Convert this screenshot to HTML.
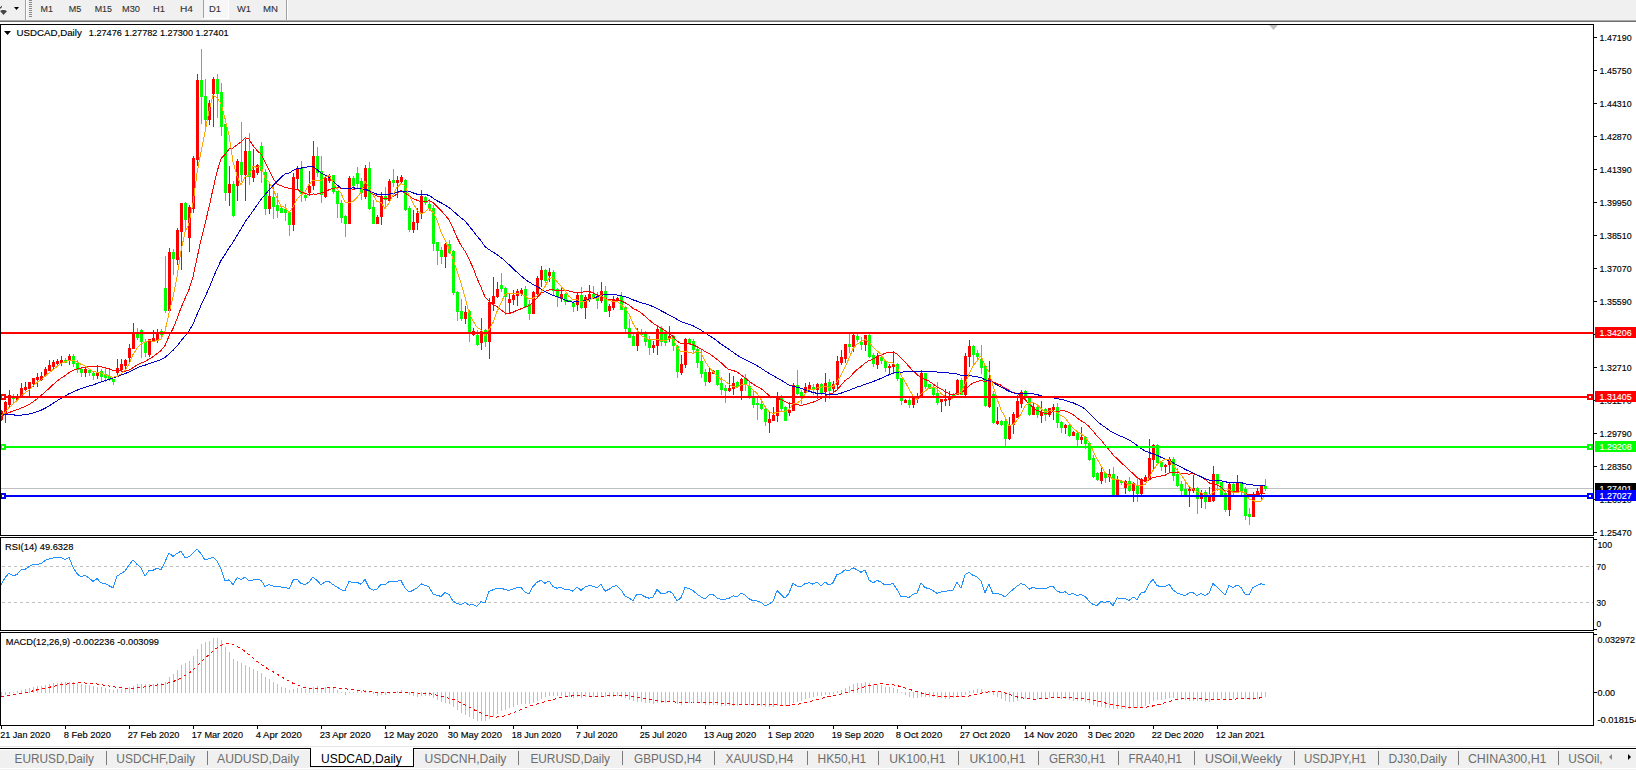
<!DOCTYPE html>
<html><head><meta charset="utf-8"><style>html,body{margin:0;padding:0;background:#fff;width:1636px;height:770px;overflow:hidden}</style></head>
<body><svg width="1636" height="770" viewBox="0 0 1636 770" shape-rendering="crispEdges" style="display:block"><rect x="0" y="0" width="1636" height="20" fill="#f0f0f0"/><rect x="0" y="20" width="1636" height="1" fill="#a8a8a8"/><rect x="0" y="21" width="1636" height="1" fill="#6e6e6e"/><rect x="0" y="22" width="1636" height="2" fill="#ffffff"/><path d="M0 8.8 L0 7.2 Q1 7 1.2 5.8 L2 6.2 Q1.8 8.2 0 8.8 Z" fill="#404040" stroke="#fff" stroke-width="0.6" paint-order="stroke" shape-rendering="geometricPrecision"/><path d="M0 11 L2 10 L5 10 L7 11.2 L3.5 15 Z" fill="#474747" stroke="#fff" stroke-width="0.6" paint-order="stroke" shape-rendering="geometricPrecision"/><path d="M14 7 L19 7 L16.5 10 Z" fill="#000" shape-rendering="geometricPrecision"/><rect x="25" y="0" width="1" height="20" fill="#a0a0a0"/><rect x="26" y="0" width="1" height="20" fill="#ffffff"/><rect x="29" y="0" width="3" height="1" fill="#8a8a8a"/><rect x="29" y="2" width="3" height="1" fill="#8a8a8a"/><rect x="29" y="4" width="3" height="1" fill="#8a8a8a"/><rect x="29" y="6" width="3" height="1" fill="#8a8a8a"/><rect x="29" y="8" width="3" height="1" fill="#8a8a8a"/><rect x="29" y="10" width="3" height="1" fill="#8a8a8a"/><rect x="29" y="12" width="3" height="1" fill="#8a8a8a"/><rect x="29" y="14" width="3" height="1" fill="#8a8a8a"/><rect x="29" y="16" width="3" height="1" fill="#8a8a8a"/><rect x="203" y="0" width="25" height="18" fill="#f7f7f7"/><rect x="203" y="0" width="1" height="18" fill="#a0a0a0"/><rect x="203" y="18" width="26" height="1" fill="#ffffff"/><rect x="228" y="0" width="1" height="18" fill="#ffffff"/><rect x="286" y="0" width="1" height="20" fill="#a0a0a0"/><rect x="287" y="0" width="1" height="20" fill="#ffffff"/><text x="40.6" y="12" font-family="Liberation Sans" font-size="9.6" fill="#303030" stroke="#303030" stroke-width="0.1" textLength="12.399999999999999" lengthAdjust="spacingAndGlyphs" shape-rendering="geometricPrecision">M1</text><text x="68.7" y="12" font-family="Liberation Sans" font-size="9.6" fill="#303030" stroke="#303030" stroke-width="0.1" textLength="12.5" lengthAdjust="spacingAndGlyphs" shape-rendering="geometricPrecision">M5</text><text x="94.7" y="12" font-family="Liberation Sans" font-size="9.6" fill="#303030" stroke="#303030" stroke-width="0.1" textLength="17.299999999999997" lengthAdjust="spacingAndGlyphs" shape-rendering="geometricPrecision">M15</text><text x="122" y="12" font-family="Liberation Sans" font-size="9.6" fill="#303030" stroke="#303030" stroke-width="0.1" textLength="18" lengthAdjust="spacingAndGlyphs" shape-rendering="geometricPrecision">M30</text><text x="153" y="12" font-family="Liberation Sans" font-size="9.6" fill="#303030" stroke="#303030" stroke-width="0.1" textLength="12" lengthAdjust="spacingAndGlyphs" shape-rendering="geometricPrecision">H1</text><text x="180" y="12" font-family="Liberation Sans" font-size="9.6" fill="#303030" stroke="#303030" stroke-width="0.1" textLength="13" lengthAdjust="spacingAndGlyphs" shape-rendering="geometricPrecision">H4</text><text x="209" y="12" font-family="Liberation Sans" font-size="9.6" fill="#303030" stroke="#303030" stroke-width="0.1" textLength="12" lengthAdjust="spacingAndGlyphs" shape-rendering="geometricPrecision">D1</text><text x="237" y="12" font-family="Liberation Sans" font-size="9.6" fill="#303030" stroke="#303030" stroke-width="0.1" textLength="14" lengthAdjust="spacingAndGlyphs" shape-rendering="geometricPrecision">W1</text><text x="263" y="12" font-family="Liberation Sans" font-size="9.6" fill="#303030" stroke="#303030" stroke-width="0.1" textLength="15" lengthAdjust="spacingAndGlyphs" shape-rendering="geometricPrecision">MN</text><rect x="0" y="24" width="1636" height="722" fill="#ffffff"/><rect x="1" y="488" width="1592" height="1" fill="#c0c0c0"/><g><rect x="1" y="410" width="1" height="11" fill="#ff0000"/><rect x="0" y="411" width="3" height="9" fill="#ff0000"/><rect x="5" y="401" width="1" height="22" fill="#ff0000"/><rect x="4" y="402" width="3" height="12" fill="#ff0000"/><rect x="9" y="390" width="1" height="17" fill="#ff0000"/><rect x="8" y="395" width="3" height="10" fill="#ff0000"/><rect x="13" y="394" width="1" height="10" fill="#00ff00"/><rect x="12" y="396" width="3" height="3" fill="#00ff00"/><rect x="17" y="394" width="1" height="6" fill="#ff0000"/><rect x="16" y="396" width="3" height="4" fill="#ff0000"/><rect x="21" y="383" width="1" height="14" fill="#ff0000"/><rect x="20" y="388" width="3" height="9" fill="#ff0000"/><rect x="25" y="382" width="1" height="9" fill="#ff0000"/><rect x="24" y="387" width="3" height="3" fill="#ff0000"/><rect x="29" y="382" width="1" height="14" fill="#ff0000"/><rect x="28" y="382" width="3" height="7" fill="#ff0000"/><rect x="33" y="378" width="1" height="9" fill="#ff0000"/><rect x="32" y="378" width="3" height="6" fill="#ff0000"/><rect x="37" y="373" width="1" height="14" fill="#ff0000"/><rect x="36" y="377" width="3" height="3" fill="#ff0000"/><rect x="41" y="372" width="1" height="9" fill="#ff0000"/><rect x="40" y="376" width="3" height="4" fill="#ff0000"/><rect x="45" y="367" width="1" height="10" fill="#ff0000"/><rect x="44" y="369" width="3" height="7" fill="#ff0000"/><rect x="49" y="360" width="1" height="11" fill="#ff0000"/><rect x="48" y="365" width="3" height="6" fill="#ff0000"/><rect x="53" y="360" width="1" height="10" fill="#ff0000"/><rect x="52" y="362" width="3" height="5" fill="#ff0000"/><rect x="57" y="359" width="1" height="7" fill="#ff0000"/><rect x="56" y="361" width="3" height="3" fill="#ff0000"/><rect x="61" y="356" width="1" height="10" fill="#ff0000"/><rect x="60" y="360" width="3" height="3" fill="#ff0000"/><rect x="65" y="358" width="1" height="5" fill="#00ff00"/><rect x="64" y="360" width="3" height="3" fill="#00ff00"/><rect x="69" y="354" width="1" height="11" fill="#ff0000"/><rect x="68" y="356" width="3" height="5" fill="#ff0000"/><rect x="73" y="354" width="1" height="13" fill="#00ff00"/><rect x="72" y="356" width="3" height="8" fill="#00ff00"/><rect x="77" y="360" width="1" height="13" fill="#00ff00"/><rect x="76" y="363" width="3" height="7" fill="#00ff00"/><rect x="81" y="367" width="1" height="10" fill="#00ff00"/><rect x="80" y="369" width="3" height="4" fill="#00ff00"/><rect x="85" y="367" width="1" height="10" fill="#ff0000"/><rect x="84" y="369" width="3" height="4" fill="#ff0000"/><rect x="89" y="369" width="1" height="7" fill="#00ff00"/><rect x="88" y="370" width="3" height="3" fill="#00ff00"/><rect x="93" y="372" width="1" height="8" fill="#00ff00"/><rect x="92" y="373" width="3" height="3" fill="#00ff00"/><rect x="97" y="365" width="1" height="14" fill="#ff0000"/><rect x="96" y="372" width="3" height="4" fill="#ff0000"/><rect x="101" y="369" width="1" height="13" fill="#00ff00"/><rect x="100" y="371" width="3" height="6" fill="#00ff00"/><rect x="105" y="368" width="1" height="14" fill="#00ff00"/><rect x="104" y="374" width="3" height="4" fill="#00ff00"/><rect x="109" y="369" width="1" height="12" fill="#00ff00"/><rect x="108" y="376" width="3" height="4" fill="#00ff00"/><rect x="113" y="379" width="1" height="6" fill="#00ff00"/><rect x="112" y="379" width="3" height="3" fill="#00ff00"/><rect x="117" y="359" width="1" height="16" fill="#ff0000"/><rect x="116" y="368" width="3" height="5" fill="#ff0000"/><rect x="121" y="359" width="1" height="12" fill="#ff0000"/><rect x="120" y="364" width="3" height="6" fill="#ff0000"/><rect x="125" y="359" width="1" height="10" fill="#ff0000"/><rect x="124" y="360" width="3" height="6" fill="#ff0000"/><rect x="129" y="344" width="1" height="18" fill="#ff0000"/><rect x="128" y="348" width="3" height="10" fill="#ff0000"/><rect x="133" y="323" width="1" height="26" fill="#ff0000"/><rect x="132" y="333" width="3" height="16" fill="#ff0000"/><rect x="137" y="328" width="1" height="12" fill="#00ff00"/><rect x="136" y="333" width="3" height="5" fill="#00ff00"/><rect x="141" y="329" width="1" height="29" fill="#00ff00"/><rect x="140" y="330" width="3" height="12" fill="#00ff00"/><rect x="145" y="339" width="1" height="18" fill="#00ff00"/><rect x="144" y="342" width="3" height="11" fill="#00ff00"/><rect x="149" y="339" width="1" height="18" fill="#ff0000"/><rect x="148" y="339" width="3" height="16" fill="#ff0000"/><rect x="153" y="330" width="1" height="12" fill="#ff0000"/><rect x="152" y="338" width="3" height="3" fill="#ff0000"/><rect x="157" y="329" width="1" height="14" fill="#ff0000"/><rect x="156" y="333" width="3" height="7" fill="#ff0000"/><rect x="161" y="329" width="1" height="9" fill="#00ff00"/><rect x="160" y="331" width="3" height="4" fill="#00ff00"/><rect x="165" y="256" width="1" height="57" fill="#00ff00"/><rect x="164" y="288" width="3" height="23" fill="#00ff00"/><rect x="169" y="248" width="1" height="63" fill="#ff0000"/><rect x="168" y="252" width="3" height="59" fill="#ff0000"/><rect x="173" y="249" width="1" height="26" fill="#00ff00"/><rect x="172" y="252" width="3" height="7" fill="#00ff00"/><rect x="177" y="228" width="1" height="37" fill="#ff0000"/><rect x="176" y="230" width="3" height="30" fill="#ff0000"/><rect x="181" y="203" width="1" height="67" fill="#ff0000"/><rect x="180" y="203" width="3" height="29" fill="#ff0000"/><rect x="185" y="202" width="1" height="29" fill="#00ff00"/><rect x="184" y="203" width="3" height="17" fill="#00ff00"/><rect x="189" y="205" width="1" height="47" fill="#ff0000"/><rect x="188" y="207" width="3" height="31" fill="#ff0000"/><rect x="193" y="156" width="1" height="57" fill="#ff0000"/><rect x="192" y="158" width="3" height="51" fill="#ff0000"/><rect x="197" y="74" width="1" height="92" fill="#ff0000"/><rect x="196" y="80" width="3" height="80" fill="#ff0000"/><rect x="201" y="49" width="1" height="75" fill="#00ff00"/><rect x="200" y="80" width="3" height="17" fill="#00ff00"/><rect x="205" y="79" width="1" height="53" fill="#00ff00"/><rect x="204" y="96" width="3" height="24" fill="#00ff00"/><rect x="209" y="100" width="1" height="25" fill="#ff0000"/><rect x="208" y="103" width="3" height="17" fill="#ff0000"/><rect x="213" y="77" width="1" height="50" fill="#ff0000"/><rect x="212" y="79" width="3" height="15" fill="#ff0000"/><rect x="217" y="74" width="1" height="44" fill="#00ff00"/><rect x="216" y="79" width="3" height="15" fill="#00ff00"/><rect x="221" y="83" width="1" height="53" fill="#00ff00"/><rect x="220" y="92" width="3" height="35" fill="#00ff00"/><rect x="225" y="124" width="1" height="77" fill="#00ff00"/><rect x="224" y="124" width="3" height="69" fill="#00ff00"/><rect x="229" y="166" width="1" height="40" fill="#ff0000"/><rect x="228" y="184" width="3" height="9" fill="#ff0000"/><rect x="233" y="181" width="1" height="36" fill="#00ff00"/><rect x="232" y="184" width="3" height="32" fill="#00ff00"/><rect x="237" y="159" width="1" height="42" fill="#ff0000"/><rect x="236" y="161" width="3" height="25" fill="#ff0000"/><rect x="241" y="122" width="1" height="60" fill="#00ff00"/><rect x="240" y="162" width="3" height="13" fill="#00ff00"/><rect x="245" y="139" width="1" height="62" fill="#ff0000"/><rect x="244" y="151" width="3" height="24" fill="#ff0000"/><rect x="249" y="133" width="1" height="52" fill="#00ff00"/><rect x="248" y="151" width="3" height="26" fill="#00ff00"/><rect x="253" y="149" width="1" height="33" fill="#ff0000"/><rect x="252" y="170" width="3" height="8" fill="#ff0000"/><rect x="257" y="164" width="1" height="11" fill="#ff0000"/><rect x="256" y="165" width="3" height="8" fill="#ff0000"/><rect x="261" y="142" width="1" height="41" fill="#00ff00"/><rect x="260" y="146" width="3" height="25" fill="#00ff00"/><rect x="265" y="169" width="1" height="46" fill="#00ff00"/><rect x="264" y="172" width="3" height="37" fill="#00ff00"/><rect x="269" y="184" width="1" height="30" fill="#ff0000"/><rect x="268" y="196" width="3" height="13" fill="#ff0000"/><rect x="273" y="184" width="1" height="35" fill="#00ff00"/><rect x="272" y="197" width="3" height="10" fill="#00ff00"/><rect x="277" y="193" width="1" height="25" fill="#00ff00"/><rect x="276" y="205" width="3" height="6" fill="#00ff00"/><rect x="281" y="207" width="1" height="6" fill="#00ff00"/><rect x="280" y="208" width="3" height="5" fill="#00ff00"/><rect x="285" y="204" width="1" height="17" fill="#00ff00"/><rect x="284" y="209" width="3" height="4" fill="#00ff00"/><rect x="289" y="211" width="1" height="25" fill="#00ff00"/><rect x="288" y="212" width="3" height="13" fill="#00ff00"/><rect x="293" y="173" width="1" height="58" fill="#ff0000"/><rect x="292" y="177" width="3" height="48" fill="#ff0000"/><rect x="297" y="166" width="1" height="24" fill="#ff0000"/><rect x="296" y="169" width="3" height="10" fill="#ff0000"/><rect x="301" y="161" width="1" height="41" fill="#00ff00"/><rect x="300" y="168" width="3" height="26" fill="#00ff00"/><rect x="305" y="194" width="1" height="7" fill="#00ff00"/><rect x="304" y="195" width="3" height="3" fill="#00ff00"/><rect x="309" y="171" width="1" height="25" fill="#ff0000"/><rect x="308" y="186" width="3" height="7" fill="#ff0000"/><rect x="313" y="141" width="1" height="49" fill="#ff0000"/><rect x="312" y="156" width="3" height="30" fill="#ff0000"/><rect x="317" y="147" width="1" height="30" fill="#00ff00"/><rect x="316" y="156" width="3" height="17" fill="#00ff00"/><rect x="321" y="156" width="1" height="47" fill="#00ff00"/><rect x="320" y="171" width="3" height="24" fill="#00ff00"/><rect x="325" y="176" width="1" height="22" fill="#ff0000"/><rect x="324" y="178" width="3" height="19" fill="#ff0000"/><rect x="329" y="174" width="1" height="9" fill="#ff0000"/><rect x="328" y="176" width="3" height="5" fill="#ff0000"/><rect x="333" y="175" width="1" height="19" fill="#00ff00"/><rect x="332" y="175" width="3" height="17" fill="#00ff00"/><rect x="337" y="191" width="1" height="27" fill="#00ff00"/><rect x="336" y="191" width="3" height="13" fill="#00ff00"/><rect x="341" y="200" width="1" height="23" fill="#00ff00"/><rect x="340" y="203" width="3" height="15" fill="#00ff00"/><rect x="345" y="215" width="1" height="22" fill="#00ff00"/><rect x="344" y="216" width="3" height="8" fill="#00ff00"/><rect x="349" y="176" width="1" height="48" fill="#ff0000"/><rect x="348" y="178" width="3" height="46" fill="#ff0000"/><rect x="353" y="176" width="1" height="13" fill="#00ff00"/><rect x="352" y="178" width="3" height="8" fill="#00ff00"/><rect x="357" y="167" width="1" height="21" fill="#00ff00"/><rect x="356" y="173" width="3" height="11" fill="#00ff00"/><rect x="361" y="178" width="1" height="22" fill="#00ff00"/><rect x="360" y="181" width="3" height="12" fill="#00ff00"/><rect x="365" y="165" width="1" height="34" fill="#ff0000"/><rect x="364" y="168" width="3" height="29" fill="#ff0000"/><rect x="369" y="162" width="1" height="48" fill="#00ff00"/><rect x="368" y="168" width="3" height="41" fill="#00ff00"/><rect x="373" y="200" width="1" height="24" fill="#00ff00"/><rect x="372" y="207" width="3" height="17" fill="#00ff00"/><rect x="377" y="215" width="1" height="9" fill="#ff0000"/><rect x="376" y="217" width="3" height="7" fill="#ff0000"/><rect x="381" y="192" width="1" height="33" fill="#ff0000"/><rect x="380" y="196" width="3" height="21" fill="#ff0000"/><rect x="385" y="187" width="1" height="22" fill="#00ff00"/><rect x="384" y="196" width="3" height="4" fill="#00ff00"/><rect x="389" y="179" width="1" height="23" fill="#ff0000"/><rect x="388" y="181" width="3" height="20" fill="#ff0000"/><rect x="393" y="169" width="1" height="18" fill="#00ff00"/><rect x="392" y="180" width="3" height="3" fill="#00ff00"/><rect x="397" y="176" width="1" height="22" fill="#ff0000"/><rect x="396" y="180" width="3" height="3" fill="#ff0000"/><rect x="401" y="175" width="1" height="8" fill="#ff0000"/><rect x="400" y="177" width="3" height="5" fill="#ff0000"/><rect x="405" y="179" width="1" height="32" fill="#00ff00"/><rect x="404" y="180" width="3" height="30" fill="#00ff00"/><rect x="409" y="206" width="1" height="26" fill="#00ff00"/><rect x="408" y="208" width="3" height="22" fill="#00ff00"/><rect x="413" y="210" width="1" height="23" fill="#ff0000"/><rect x="412" y="222" width="3" height="8" fill="#ff0000"/><rect x="417" y="208" width="1" height="22" fill="#ff0000"/><rect x="416" y="213" width="3" height="10" fill="#ff0000"/><rect x="421" y="190" width="1" height="29" fill="#ff0000"/><rect x="420" y="196" width="3" height="18" fill="#ff0000"/><rect x="425" y="196" width="1" height="9" fill="#00ff00"/><rect x="424" y="197" width="3" height="6" fill="#00ff00"/><rect x="429" y="199" width="1" height="12" fill="#00ff00"/><rect x="428" y="204" width="3" height="5" fill="#00ff00"/><rect x="433" y="205" width="1" height="46" fill="#00ff00"/><rect x="432" y="208" width="3" height="36" fill="#00ff00"/><rect x="437" y="242" width="1" height="23" fill="#00ff00"/><rect x="436" y="242" width="3" height="9" fill="#00ff00"/><rect x="441" y="247" width="1" height="17" fill="#00ff00"/><rect x="440" y="250" width="3" height="7" fill="#00ff00"/><rect x="445" y="243" width="1" height="25" fill="#ff0000"/><rect x="444" y="244" width="3" height="13" fill="#ff0000"/><rect x="449" y="240" width="1" height="14" fill="#00ff00"/><rect x="448" y="244" width="3" height="9" fill="#00ff00"/><rect x="453" y="250" width="1" height="45" fill="#00ff00"/><rect x="452" y="251" width="3" height="42" fill="#00ff00"/><rect x="457" y="291" width="1" height="30" fill="#00ff00"/><rect x="456" y="292" width="3" height="20" fill="#00ff00"/><rect x="461" y="299" width="1" height="22" fill="#00ff00"/><rect x="460" y="311" width="3" height="8" fill="#00ff00"/><rect x="465" y="306" width="1" height="18" fill="#ff0000"/><rect x="464" y="312" width="3" height="7" fill="#ff0000"/><rect x="469" y="310" width="1" height="32" fill="#00ff00"/><rect x="468" y="311" width="3" height="22" fill="#00ff00"/><rect x="473" y="328" width="1" height="8" fill="#ff0000"/><rect x="472" y="331" width="3" height="4" fill="#ff0000"/><rect x="477" y="330" width="1" height="16" fill="#00ff00"/><rect x="476" y="335" width="3" height="10" fill="#00ff00"/><rect x="481" y="318" width="1" height="32" fill="#ff0000"/><rect x="480" y="331" width="3" height="12" fill="#ff0000"/><rect x="485" y="329" width="1" height="18" fill="#00ff00"/><rect x="484" y="330" width="3" height="12" fill="#00ff00"/><rect x="489" y="298" width="1" height="61" fill="#ff0000"/><rect x="488" y="302" width="3" height="40" fill="#ff0000"/><rect x="493" y="277" width="1" height="34" fill="#ff0000"/><rect x="492" y="296" width="3" height="8" fill="#ff0000"/><rect x="497" y="282" width="1" height="16" fill="#ff0000"/><rect x="496" y="289" width="3" height="8" fill="#ff0000"/><rect x="501" y="273" width="1" height="19" fill="#00ff00"/><rect x="500" y="285" width="3" height="4" fill="#00ff00"/><rect x="505" y="287" width="1" height="28" fill="#00ff00"/><rect x="504" y="288" width="3" height="9" fill="#00ff00"/><rect x="509" y="293" width="1" height="21" fill="#ff0000"/><rect x="508" y="299" width="3" height="4" fill="#ff0000"/><rect x="513" y="290" width="1" height="15" fill="#ff0000"/><rect x="512" y="295" width="3" height="5" fill="#ff0000"/><rect x="517" y="289" width="1" height="17" fill="#ff0000"/><rect x="516" y="291" width="3" height="5" fill="#ff0000"/><rect x="521" y="288" width="1" height="8" fill="#ff0000"/><rect x="520" y="290" width="3" height="4" fill="#ff0000"/><rect x="525" y="286" width="1" height="22" fill="#00ff00"/><rect x="524" y="289" width="3" height="18" fill="#00ff00"/><rect x="529" y="300" width="1" height="20" fill="#00ff00"/><rect x="528" y="304" width="3" height="10" fill="#00ff00"/><rect x="533" y="291" width="1" height="23" fill="#ff0000"/><rect x="532" y="292" width="3" height="22" fill="#ff0000"/><rect x="537" y="276" width="1" height="21" fill="#ff0000"/><rect x="536" y="278" width="3" height="16" fill="#ff0000"/><rect x="541" y="266" width="1" height="21" fill="#ff0000"/><rect x="540" y="270" width="3" height="10" fill="#ff0000"/><rect x="545" y="269" width="1" height="14" fill="#00ff00"/><rect x="544" y="270" width="3" height="11" fill="#00ff00"/><rect x="549" y="268" width="1" height="14" fill="#ff0000"/><rect x="548" y="272" width="3" height="4" fill="#ff0000"/><rect x="553" y="270" width="1" height="25" fill="#00ff00"/><rect x="552" y="272" width="3" height="19" fill="#00ff00"/><rect x="557" y="288" width="1" height="19" fill="#00ff00"/><rect x="556" y="289" width="3" height="8" fill="#00ff00"/><rect x="561" y="287" width="1" height="15" fill="#ff0000"/><rect x="560" y="294" width="3" height="5" fill="#ff0000"/><rect x="565" y="293" width="1" height="12" fill="#00ff00"/><rect x="564" y="294" width="3" height="8" fill="#00ff00"/><rect x="569" y="300" width="1" height="2" fill="#00ff00"/><rect x="568" y="300" width="3" height="2" fill="#00ff00"/><rect x="573" y="301" width="1" height="11" fill="#00ff00"/><rect x="572" y="303" width="3" height="4" fill="#00ff00"/><rect x="577" y="292" width="1" height="19" fill="#ff0000"/><rect x="576" y="295" width="3" height="10" fill="#ff0000"/><rect x="581" y="287" width="1" height="22" fill="#00ff00"/><rect x="580" y="295" width="3" height="13" fill="#00ff00"/><rect x="585" y="295" width="1" height="24" fill="#ff0000"/><rect x="584" y="297" width="3" height="11" fill="#ff0000"/><rect x="589" y="285" width="1" height="17" fill="#ff0000"/><rect x="588" y="294" width="3" height="5" fill="#ff0000"/><rect x="593" y="286" width="1" height="11" fill="#00ff00"/><rect x="592" y="294" width="3" height="3" fill="#00ff00"/><rect x="597" y="292" width="1" height="17" fill="#00ff00"/><rect x="596" y="296" width="3" height="5" fill="#00ff00"/><rect x="601" y="282" width="1" height="21" fill="#ff0000"/><rect x="600" y="291" width="3" height="10" fill="#ff0000"/><rect x="605" y="286" width="1" height="26" fill="#00ff00"/><rect x="604" y="291" width="3" height="21" fill="#00ff00"/><rect x="609" y="304" width="1" height="13" fill="#ff0000"/><rect x="608" y="306" width="3" height="5" fill="#ff0000"/><rect x="613" y="296" width="1" height="14" fill="#ff0000"/><rect x="612" y="299" width="3" height="9" fill="#ff0000"/><rect x="617" y="297" width="1" height="4" fill="#ff0000"/><rect x="616" y="298" width="3" height="3" fill="#ff0000"/><rect x="621" y="292" width="1" height="18" fill="#00ff00"/><rect x="620" y="296" width="3" height="14" fill="#00ff00"/><rect x="625" y="306" width="1" height="26" fill="#00ff00"/><rect x="624" y="307" width="3" height="22" fill="#00ff00"/><rect x="629" y="319" width="1" height="19" fill="#00ff00"/><rect x="628" y="328" width="3" height="10" fill="#00ff00"/><rect x="633" y="334" width="1" height="12" fill="#00ff00"/><rect x="632" y="336" width="3" height="10" fill="#00ff00"/><rect x="637" y="328" width="1" height="23" fill="#ff0000"/><rect x="636" y="332" width="3" height="14" fill="#ff0000"/><rect x="641" y="329" width="1" height="6" fill="#00ff00"/><rect x="640" y="332" width="3" height="3" fill="#00ff00"/><rect x="645" y="331" width="1" height="15" fill="#00ff00"/><rect x="644" y="333" width="3" height="9" fill="#00ff00"/><rect x="649" y="336" width="1" height="19" fill="#00ff00"/><rect x="648" y="340" width="3" height="8" fill="#00ff00"/><rect x="653" y="341" width="1" height="12" fill="#ff0000"/><rect x="652" y="345" width="3" height="3" fill="#ff0000"/><rect x="657" y="325" width="1" height="30" fill="#ff0000"/><rect x="656" y="329" width="3" height="17" fill="#ff0000"/><rect x="661" y="326" width="1" height="20" fill="#00ff00"/><rect x="660" y="328" width="3" height="14" fill="#00ff00"/><rect x="665" y="331" width="1" height="15" fill="#00ff00"/><rect x="664" y="334" width="3" height="9" fill="#00ff00"/><rect x="669" y="326" width="1" height="16" fill="#ff0000"/><rect x="668" y="336" width="3" height="3" fill="#ff0000"/><rect x="673" y="335" width="1" height="16" fill="#00ff00"/><rect x="672" y="336" width="3" height="10" fill="#00ff00"/><rect x="677" y="345" width="1" height="33" fill="#00ff00"/><rect x="676" y="346" width="3" height="26" fill="#00ff00"/><rect x="681" y="355" width="1" height="20" fill="#ff0000"/><rect x="680" y="364" width="3" height="9" fill="#ff0000"/><rect x="685" y="338" width="1" height="30" fill="#ff0000"/><rect x="684" y="339" width="3" height="26" fill="#ff0000"/><rect x="689" y="338" width="1" height="7" fill="#00ff00"/><rect x="688" y="339" width="3" height="4" fill="#00ff00"/><rect x="693" y="339" width="1" height="15" fill="#00ff00"/><rect x="692" y="341" width="3" height="9" fill="#00ff00"/><rect x="697" y="348" width="1" height="20" fill="#00ff00"/><rect x="696" y="349" width="3" height="14" fill="#00ff00"/><rect x="701" y="350" width="1" height="28" fill="#00ff00"/><rect x="700" y="361" width="3" height="13" fill="#00ff00"/><rect x="705" y="369" width="1" height="17" fill="#00ff00"/><rect x="704" y="372" width="3" height="10" fill="#00ff00"/><rect x="709" y="368" width="1" height="15" fill="#ff0000"/><rect x="708" y="372" width="3" height="10" fill="#ff0000"/><rect x="713" y="370" width="1" height="4" fill="#ff0000"/><rect x="712" y="371" width="3" height="3" fill="#ff0000"/><rect x="717" y="370" width="1" height="16" fill="#00ff00"/><rect x="716" y="370" width="3" height="15" fill="#00ff00"/><rect x="721" y="377" width="1" height="18" fill="#00ff00"/><rect x="720" y="383" width="3" height="7" fill="#00ff00"/><rect x="725" y="385" width="1" height="18" fill="#00ff00"/><rect x="724" y="388" width="3" height="3" fill="#00ff00"/><rect x="729" y="373" width="1" height="19" fill="#ff0000"/><rect x="728" y="388" width="3" height="3" fill="#ff0000"/><rect x="733" y="376" width="1" height="19" fill="#ff0000"/><rect x="732" y="383" width="3" height="6" fill="#ff0000"/><rect x="737" y="381" width="1" height="7" fill="#00ff00"/><rect x="736" y="382" width="3" height="5" fill="#00ff00"/><rect x="741" y="378" width="1" height="22" fill="#ff0000"/><rect x="740" y="379" width="3" height="12" fill="#ff0000"/><rect x="745" y="374" width="1" height="17" fill="#00ff00"/><rect x="744" y="378" width="3" height="7" fill="#00ff00"/><rect x="749" y="382" width="1" height="17" fill="#00ff00"/><rect x="748" y="386" width="3" height="11" fill="#00ff00"/><rect x="753" y="391" width="1" height="17" fill="#00ff00"/><rect x="752" y="397" width="3" height="8" fill="#00ff00"/><rect x="757" y="398" width="1" height="22" fill="#00ff00"/><rect x="756" y="403" width="3" height="2" fill="#00ff00"/><rect x="761" y="400" width="1" height="10" fill="#00ff00"/><rect x="760" y="404" width="3" height="5" fill="#00ff00"/><rect x="765" y="406" width="1" height="20" fill="#00ff00"/><rect x="764" y="409" width="3" height="13" fill="#00ff00"/><rect x="769" y="411" width="1" height="22" fill="#ff0000"/><rect x="768" y="419" width="3" height="4" fill="#ff0000"/><rect x="773" y="407" width="1" height="14" fill="#ff0000"/><rect x="772" y="415" width="3" height="6" fill="#ff0000"/><rect x="777" y="392" width="1" height="30" fill="#ff0000"/><rect x="776" y="397" width="3" height="19" fill="#ff0000"/><rect x="781" y="395" width="1" height="17" fill="#00ff00"/><rect x="780" y="397" width="3" height="12" fill="#00ff00"/><rect x="785" y="406" width="1" height="15" fill="#00ff00"/><rect x="784" y="407" width="3" height="14" fill="#00ff00"/><rect x="789" y="402" width="1" height="14" fill="#ff0000"/><rect x="788" y="410" width="3" height="3" fill="#ff0000"/><rect x="793" y="383" width="1" height="28" fill="#ff0000"/><rect x="792" y="385" width="3" height="26" fill="#ff0000"/><rect x="797" y="370" width="1" height="25" fill="#00ff00"/><rect x="796" y="385" width="3" height="9" fill="#00ff00"/><rect x="801" y="390" width="1" height="14" fill="#00ff00"/><rect x="800" y="392" width="3" height="4" fill="#00ff00"/><rect x="805" y="383" width="1" height="11" fill="#ff0000"/><rect x="804" y="387" width="3" height="6" fill="#ff0000"/><rect x="809" y="382" width="1" height="9" fill="#ff0000"/><rect x="808" y="385" width="3" height="4" fill="#ff0000"/><rect x="813" y="384" width="1" height="11" fill="#00ff00"/><rect x="812" y="387" width="3" height="2" fill="#00ff00"/><rect x="817" y="383" width="1" height="16" fill="#ff0000"/><rect x="816" y="384" width="3" height="6" fill="#ff0000"/><rect x="821" y="383" width="1" height="12" fill="#00ff00"/><rect x="820" y="384" width="3" height="9" fill="#00ff00"/><rect x="825" y="373" width="1" height="29" fill="#ff0000"/><rect x="824" y="383" width="3" height="9" fill="#ff0000"/><rect x="829" y="379" width="1" height="20" fill="#00ff00"/><rect x="828" y="382" width="3" height="9" fill="#00ff00"/><rect x="833" y="381" width="1" height="11" fill="#ff0000"/><rect x="832" y="384" width="3" height="5" fill="#ff0000"/><rect x="837" y="356" width="1" height="33" fill="#ff0000"/><rect x="836" y="361" width="3" height="24" fill="#ff0000"/><rect x="841" y="350" width="1" height="15" fill="#ff0000"/><rect x="840" y="357" width="3" height="6" fill="#ff0000"/><rect x="845" y="344" width="1" height="19" fill="#ff0000"/><rect x="844" y="344" width="3" height="15" fill="#ff0000"/><rect x="849" y="333" width="1" height="20" fill="#00ff00"/><rect x="848" y="344" width="3" height="3" fill="#00ff00"/><rect x="853" y="333" width="1" height="19" fill="#ff0000"/><rect x="852" y="335" width="3" height="12" fill="#ff0000"/><rect x="857" y="333" width="1" height="9" fill="#00ff00"/><rect x="856" y="336" width="3" height="4" fill="#00ff00"/><rect x="861" y="337" width="1" height="13" fill="#00ff00"/><rect x="860" y="342" width="3" height="3" fill="#00ff00"/><rect x="865" y="335" width="1" height="16" fill="#ff0000"/><rect x="864" y="335" width="3" height="10" fill="#ff0000"/><rect x="869" y="333" width="1" height="25" fill="#00ff00"/><rect x="868" y="335" width="3" height="22" fill="#00ff00"/><rect x="873" y="353" width="1" height="14" fill="#00ff00"/><rect x="872" y="355" width="3" height="9" fill="#00ff00"/><rect x="877" y="353" width="1" height="16" fill="#ff0000"/><rect x="876" y="356" width="3" height="9" fill="#ff0000"/><rect x="881" y="356" width="1" height="8" fill="#00ff00"/><rect x="880" y="357" width="3" height="4" fill="#00ff00"/><rect x="885" y="360" width="1" height="12" fill="#00ff00"/><rect x="884" y="361" width="3" height="7" fill="#00ff00"/><rect x="889" y="364" width="1" height="11" fill="#ff0000"/><rect x="888" y="366" width="3" height="2" fill="#ff0000"/><rect x="893" y="351" width="1" height="23" fill="#ff0000"/><rect x="892" y="364" width="3" height="3" fill="#ff0000"/><rect x="897" y="363" width="1" height="18" fill="#00ff00"/><rect x="896" y="364" width="3" height="15" fill="#00ff00"/><rect x="901" y="378" width="1" height="27" fill="#00ff00"/><rect x="900" y="378" width="3" height="23" fill="#00ff00"/><rect x="905" y="399" width="1" height="4" fill="#ff0000"/><rect x="904" y="400" width="3" height="3" fill="#ff0000"/><rect x="909" y="398" width="1" height="10" fill="#00ff00"/><rect x="908" y="400" width="3" height="5" fill="#00ff00"/><rect x="913" y="396" width="1" height="12" fill="#ff0000"/><rect x="912" y="398" width="3" height="7" fill="#ff0000"/><rect x="917" y="393" width="1" height="10" fill="#ff0000"/><rect x="916" y="396" width="3" height="3" fill="#ff0000"/><rect x="921" y="370" width="1" height="27" fill="#ff0000"/><rect x="920" y="373" width="3" height="24" fill="#ff0000"/><rect x="925" y="373" width="1" height="16" fill="#00ff00"/><rect x="924" y="373" width="3" height="14" fill="#00ff00"/><rect x="929" y="384" width="1" height="5" fill="#00ff00"/><rect x="928" y="384" width="3" height="5" fill="#00ff00"/><rect x="933" y="385" width="1" height="12" fill="#00ff00"/><rect x="932" y="387" width="3" height="8" fill="#00ff00"/><rect x="937" y="382" width="1" height="23" fill="#00ff00"/><rect x="936" y="393" width="3" height="10" fill="#00ff00"/><rect x="941" y="399" width="1" height="13" fill="#ff0000"/><rect x="940" y="399" width="3" height="3" fill="#ff0000"/><rect x="945" y="389" width="1" height="17" fill="#ff0000"/><rect x="944" y="399" width="3" height="2" fill="#ff0000"/><rect x="949" y="391" width="1" height="15" fill="#ff0000"/><rect x="948" y="396" width="3" height="4" fill="#ff0000"/><rect x="953" y="393" width="1" height="5" fill="#00ff00"/><rect x="952" y="394" width="3" height="3" fill="#00ff00"/><rect x="957" y="379" width="1" height="16" fill="#ff0000"/><rect x="956" y="380" width="3" height="15" fill="#ff0000"/><rect x="961" y="378" width="1" height="17" fill="#00ff00"/><rect x="960" y="380" width="3" height="15" fill="#00ff00"/><rect x="965" y="353" width="1" height="43" fill="#ff0000"/><rect x="964" y="356" width="3" height="39" fill="#ff0000"/><rect x="969" y="340" width="1" height="27" fill="#ff0000"/><rect x="968" y="346" width="3" height="11" fill="#ff0000"/><rect x="973" y="345" width="1" height="21" fill="#00ff00"/><rect x="972" y="346" width="3" height="9" fill="#00ff00"/><rect x="977" y="350" width="1" height="9" fill="#00ff00"/><rect x="976" y="353" width="3" height="4" fill="#00ff00"/><rect x="981" y="345" width="1" height="29" fill="#00ff00"/><rect x="980" y="359" width="3" height="9" fill="#00ff00"/><rect x="985" y="366" width="1" height="41" fill="#00ff00"/><rect x="984" y="366" width="3" height="40" fill="#00ff00"/><rect x="989" y="361" width="1" height="47" fill="#ff0000"/><rect x="988" y="378" width="3" height="29" fill="#ff0000"/><rect x="993" y="391" width="1" height="33" fill="#00ff00"/><rect x="992" y="394" width="3" height="29" fill="#00ff00"/><rect x="997" y="407" width="1" height="18" fill="#ff0000"/><rect x="996" y="421" width="3" height="3" fill="#ff0000"/><rect x="1001" y="420" width="1" height="6" fill="#00ff00"/><rect x="1000" y="421" width="3" height="4" fill="#00ff00"/><rect x="1005" y="419" width="1" height="27" fill="#00ff00"/><rect x="1004" y="421" width="3" height="18" fill="#00ff00"/><rect x="1009" y="417" width="1" height="23" fill="#ff0000"/><rect x="1008" y="425" width="3" height="14" fill="#ff0000"/><rect x="1013" y="412" width="1" height="22" fill="#ff0000"/><rect x="1012" y="414" width="3" height="11" fill="#ff0000"/><rect x="1017" y="395" width="1" height="23" fill="#ff0000"/><rect x="1016" y="401" width="3" height="17" fill="#ff0000"/><rect x="1021" y="390" width="1" height="18" fill="#ff0000"/><rect x="1020" y="392" width="3" height="12" fill="#ff0000"/><rect x="1025" y="390" width="1" height="9" fill="#00ff00"/><rect x="1024" y="391" width="3" height="7" fill="#00ff00"/><rect x="1029" y="398" width="1" height="18" fill="#00ff00"/><rect x="1028" y="398" width="3" height="17" fill="#00ff00"/><rect x="1033" y="403" width="1" height="12" fill="#ff0000"/><rect x="1032" y="407" width="3" height="8" fill="#ff0000"/><rect x="1037" y="404" width="1" height="14" fill="#00ff00"/><rect x="1036" y="407" width="3" height="8" fill="#00ff00"/><rect x="1041" y="401" width="1" height="22" fill="#ff0000"/><rect x="1040" y="412" width="3" height="4" fill="#ff0000"/><rect x="1045" y="408" width="1" height="13" fill="#00ff00"/><rect x="1044" y="409" width="3" height="6" fill="#00ff00"/><rect x="1049" y="408" width="1" height="9" fill="#ff0000"/><rect x="1048" y="408" width="3" height="7" fill="#ff0000"/><rect x="1053" y="404" width="1" height="16" fill="#ff0000"/><rect x="1052" y="407" width="3" height="3" fill="#ff0000"/><rect x="1057" y="403" width="1" height="25" fill="#00ff00"/><rect x="1056" y="407" width="3" height="16" fill="#00ff00"/><rect x="1061" y="421" width="1" height="12" fill="#00ff00"/><rect x="1060" y="422" width="3" height="6" fill="#00ff00"/><rect x="1065" y="424" width="1" height="10" fill="#ff0000"/><rect x="1064" y="425" width="3" height="3" fill="#ff0000"/><rect x="1069" y="424" width="1" height="13" fill="#00ff00"/><rect x="1068" y="425" width="3" height="11" fill="#00ff00"/><rect x="1073" y="431" width="1" height="5" fill="#ff0000"/><rect x="1072" y="432" width="3" height="4" fill="#ff0000"/><rect x="1077" y="432" width="1" height="15" fill="#00ff00"/><rect x="1076" y="433" width="3" height="7" fill="#00ff00"/><rect x="1081" y="427" width="1" height="17" fill="#ff0000"/><rect x="1080" y="437" width="3" height="3" fill="#ff0000"/><rect x="1085" y="436" width="1" height="13" fill="#00ff00"/><rect x="1084" y="437" width="3" height="7" fill="#00ff00"/><rect x="1089" y="442" width="1" height="19" fill="#00ff00"/><rect x="1088" y="443" width="3" height="17" fill="#00ff00"/><rect x="1093" y="455" width="1" height="23" fill="#00ff00"/><rect x="1092" y="458" width="3" height="19" fill="#00ff00"/><rect x="1097" y="472" width="1" height="9" fill="#00ff00"/><rect x="1096" y="473" width="3" height="7" fill="#00ff00"/><rect x="1101" y="467" width="1" height="17" fill="#ff0000"/><rect x="1100" y="472" width="3" height="9" fill="#ff0000"/><rect x="1105" y="472" width="1" height="11" fill="#00ff00"/><rect x="1104" y="473" width="3" height="5" fill="#00ff00"/><rect x="1109" y="469" width="1" height="13" fill="#ff0000"/><rect x="1108" y="474" width="3" height="3" fill="#ff0000"/><rect x="1113" y="467" width="1" height="28" fill="#00ff00"/><rect x="1112" y="474" width="3" height="21" fill="#00ff00"/><rect x="1117" y="476" width="1" height="20" fill="#ff0000"/><rect x="1116" y="479" width="3" height="17" fill="#ff0000"/><rect x="1121" y="480" width="1" height="5" fill="#00ff00"/><rect x="1120" y="481" width="3" height="2" fill="#00ff00"/><rect x="1125" y="480" width="1" height="14" fill="#ff0000"/><rect x="1124" y="481" width="3" height="7" fill="#ff0000"/><rect x="1129" y="477" width="1" height="15" fill="#00ff00"/><rect x="1128" y="481" width="3" height="10" fill="#00ff00"/><rect x="1133" y="482" width="1" height="20" fill="#ff0000"/><rect x="1132" y="483" width="3" height="8" fill="#ff0000"/><rect x="1137" y="478" width="1" height="24" fill="#00ff00"/><rect x="1136" y="485" width="3" height="9" fill="#00ff00"/><rect x="1141" y="478" width="1" height="18" fill="#ff0000"/><rect x="1140" y="479" width="3" height="15" fill="#ff0000"/><rect x="1145" y="475" width="1" height="7" fill="#ff0000"/><rect x="1144" y="477" width="3" height="5" fill="#ff0000"/><rect x="1149" y="439" width="1" height="41" fill="#ff0000"/><rect x="1148" y="458" width="3" height="20" fill="#ff0000"/><rect x="1153" y="444" width="1" height="27" fill="#ff0000"/><rect x="1152" y="445" width="3" height="15" fill="#ff0000"/><rect x="1157" y="444" width="1" height="19" fill="#00ff00"/><rect x="1156" y="445" width="3" height="18" fill="#00ff00"/><rect x="1161" y="461" width="1" height="10" fill="#00ff00"/><rect x="1160" y="462" width="3" height="5" fill="#00ff00"/><rect x="1165" y="464" width="1" height="9" fill="#ff0000"/><rect x="1164" y="465" width="3" height="2" fill="#ff0000"/><rect x="1169" y="457" width="1" height="16" fill="#ff0000"/><rect x="1168" y="459" width="3" height="6" fill="#ff0000"/><rect x="1173" y="457" width="1" height="24" fill="#00ff00"/><rect x="1172" y="459" width="3" height="17" fill="#00ff00"/><rect x="1177" y="468" width="1" height="19" fill="#00ff00"/><rect x="1176" y="474" width="3" height="12" fill="#00ff00"/><rect x="1181" y="481" width="1" height="15" fill="#00ff00"/><rect x="1180" y="484" width="3" height="7" fill="#00ff00"/><rect x="1185" y="481" width="1" height="15" fill="#00ff00"/><rect x="1184" y="489" width="3" height="7" fill="#00ff00"/><rect x="1189" y="487" width="1" height="20" fill="#ff0000"/><rect x="1188" y="489" width="3" height="2" fill="#ff0000"/><rect x="1193" y="475" width="1" height="18" fill="#ff0000"/><rect x="1192" y="488" width="3" height="3" fill="#ff0000"/><rect x="1197" y="487" width="1" height="27" fill="#00ff00"/><rect x="1196" y="488" width="3" height="11" fill="#00ff00"/><rect x="1201" y="490" width="1" height="18" fill="#ff0000"/><rect x="1200" y="493" width="3" height="6" fill="#ff0000"/><rect x="1205" y="490" width="1" height="19" fill="#00ff00"/><rect x="1204" y="492" width="3" height="10" fill="#00ff00"/><rect x="1209" y="487" width="1" height="15" fill="#ff0000"/><rect x="1208" y="496" width="3" height="6" fill="#ff0000"/><rect x="1213" y="466" width="1" height="36" fill="#ff0000"/><rect x="1212" y="474" width="3" height="27" fill="#ff0000"/><rect x="1217" y="474" width="1" height="17" fill="#00ff00"/><rect x="1216" y="474" width="3" height="10" fill="#00ff00"/><rect x="1221" y="482" width="1" height="14" fill="#00ff00"/><rect x="1220" y="482" width="3" height="13" fill="#00ff00"/><rect x="1225" y="491" width="1" height="21" fill="#00ff00"/><rect x="1224" y="493" width="3" height="17" fill="#00ff00"/><rect x="1229" y="483" width="1" height="33" fill="#ff0000"/><rect x="1228" y="484" width="3" height="26" fill="#ff0000"/><rect x="1233" y="483" width="1" height="12" fill="#00ff00"/><rect x="1232" y="484" width="3" height="8" fill="#00ff00"/><rect x="1237" y="475" width="1" height="17" fill="#ff0000"/><rect x="1236" y="483" width="3" height="9" fill="#ff0000"/><rect x="1241" y="483" width="1" height="12" fill="#00ff00"/><rect x="1240" y="483" width="3" height="8" fill="#00ff00"/><rect x="1245" y="487" width="1" height="33" fill="#00ff00"/><rect x="1244" y="489" width="3" height="27" fill="#00ff00"/><rect x="1249" y="508" width="1" height="17" fill="#00ff00"/><rect x="1248" y="514" width="3" height="3" fill="#00ff00"/><rect x="1253" y="492" width="1" height="25" fill="#ff0000"/><rect x="1252" y="497" width="3" height="20" fill="#ff0000"/><rect x="1257" y="488" width="1" height="8" fill="#ff0000"/><rect x="1256" y="491" width="3" height="5" fill="#ff0000"/><rect x="1261" y="485" width="1" height="16" fill="#ff0000"/><rect x="1260" y="486" width="3" height="8" fill="#ff0000"/><rect x="1265" y="479" width="1" height="12" fill="#00ff00"/><rect x="1264" y="486" width="3" height="3" fill="#00ff00"/></g><polyline points="1,416.2 5,414.5 9,412.6 13,411.1 17,409.8 21,408.1 25,406.6 29,404.5 33,401.9 37,398.9 41,395.6 45,392.1 49,388.4 53,384.7 57,381.1 61,378.1 65,375.7 69,372.7 73,370.4 77,369.0 81,367.9 85,367.0 89,366.6 93,366.4 97,366.2 101,366.7 105,367.6 109,368.8 113,370.3 117,370.8 121,371.0 125,371.3 129,370.2 133,367.6 137,365.1 141,363.1 145,361.7 149,359.1 153,356.7 157,353.6 161,350.5 165,345.6 169,336.3 173,328.5 177,319.0 181,307.8 185,298.5 189,289.5 193,276.7 197,258.1 201,239.8 205,224.0 209,207.2 213,189.1 217,171.8 221,158.7 225,154.4 229,149.1 233,148.0 237,145.0 241,141.8 245,137.8 249,139.1 253,145.6 257,150.5 261,154.2 265,161.7 269,170.1 273,178.2 277,184.2 281,185.6 285,187.6 289,188.2 293,189.4 297,189.0 301,192.0 305,193.5 309,194.6 313,194.0 317,194.1 321,193.1 325,191.8 329,189.7 333,188.4 337,187.7 341,188.1 345,188.1 349,188.2 353,189.3 357,188.6 361,188.2 365,186.9 369,190.7 373,194.3 377,196.0 381,197.2 385,198.8 389,198.1 393,196.6 397,193.9 401,190.6 405,192.8 409,195.9 413,198.6 417,200.2 421,202.1 425,201.7 429,200.7 433,202.5 437,206.4 441,210.5 445,214.9 449,219.9 453,228.0 457,237.6 461,245.3 465,251.3 469,259.2 473,267.6 477,278.2 481,287.3 485,296.8 489,301.0 493,304.3 497,306.7 501,309.9 505,313.0 509,313.4 513,312.3 517,310.3 521,308.8 525,306.9 529,305.7 533,302.0 537,298.2 541,293.1 545,291.6 549,289.9 553,289.9 557,290.4 561,290.3 565,290.5 569,291.0 573,292.1 577,292.4 581,292.5 585,291.4 589,291.5 593,292.8 597,294.9 601,295.7 605,298.5 609,299.7 613,299.9 617,300.2 621,300.7 625,302.7 629,304.9 633,308.5 637,310.2 641,312.8 645,316.2 649,319.9 653,323.1 657,325.8 661,328.0 665,330.5 669,333.2 673,336.5 677,341.0 681,343.6 685,343.8 689,343.5 693,344.8 697,346.8 701,349.0 705,351.4 709,353.4 713,356.4 717,359.4 721,362.7 725,366.5 729,369.6 733,370.4 737,372.0 741,374.8 745,377.8 749,381.2 753,384.2 757,386.4 761,388.4 765,391.9 769,395.4 773,397.6 777,398.2 781,399.5 785,401.7 789,403.6 793,403.6 797,404.6 801,405.3 805,404.7 809,403.4 813,402.2 817,400.5 821,398.4 825,395.8 829,394.0 833,393.1 837,389.8 841,385.3 845,380.6 849,377.8 853,373.7 857,369.7 861,366.5 865,363.0 869,360.6 873,359.2 877,356.6 881,355.1 885,353.4 889,352.1 893,352.3 897,353.9 901,357.9 905,361.7 909,366.6 913,370.8 917,374.6 921,377.2 925,379.4 929,381.1 933,383.8 937,386.8 941,389.0 945,391.4 949,393.6 953,394.9 957,393.4 961,393.0 965,389.6 969,385.8 973,382.8 977,381.7 981,380.4 985,381.6 989,380.4 993,381.9 997,383.5 1001,385.2 1005,388.3 1009,390.3 1013,392.8 1017,393.3 1021,395.9 1025,399.6 1029,403.8 1033,407.5 1037,410.8 1041,411.3 1045,413.8 1049,412.9 1053,411.8 1057,411.7 1061,410.9 1065,410.9 1069,412.4 1073,414.6 1077,417.9 1081,420.8 1085,422.9 1089,426.6 1093,431.0 1097,435.9 1101,440.0 1105,444.9 1109,449.7 1113,454.9 1117,458.6 1121,462.7 1125,466.0 1129,470.2 1133,473.3 1137,477.3 1141,479.9 1145,481.2 1149,480.0 1153,477.5 1157,476.8 1161,476.0 1165,475.3 1169,472.8 1173,472.6 1177,472.8 1181,473.3 1185,473.6 1189,474.1 1193,473.7 1197,475.1 1201,476.2 1205,479.3 1209,482.9 1213,483.8 1217,485.0 1221,487.1 1225,490.7 1229,491.4 1233,491.8 1237,491.4 1241,491.1 1245,492.9 1249,494.9 1253,494.8 1257,494.7 1261,493.6 1265,493.1" fill="none" stroke="#ff0000" stroke-width="1" shape-rendering="crispEdges"/><polyline points="1,413.9 5,414.3 9,414.5 13,414.9 17,415.2 21,415.1 25,414.8 29,414.1 33,413.0 37,411.8 41,410.2 45,408.3 49,406.0 53,403.4 57,400.8 61,398.4 65,396.1 69,393.8 73,391.9 77,390.2 81,388.7 85,387.3 89,386.1 93,384.9 97,383.5 101,382.1 105,380.6 109,379.3 113,378.1 117,376.6 121,375.0 125,373.6 129,372.1 133,369.9 137,367.9 141,366.4 145,365.2 149,363.8 153,362.4 157,360.9 161,359.6 165,357.6 169,353.8 173,350.4 177,346.0 181,340.8 185,336.0 189,331.1 193,324.2 197,314.6 201,305.4 205,297.0 209,288.1 213,278.2 217,268.9 221,260.5 225,254.4 229,247.9 233,242.3 237,235.4 241,229.1 245,222.1 249,216.4 253,211.0 257,205.2 261,199.5 265,194.7 269,190.0 273,185.6 277,181.5 281,177.4 285,174.1 289,173.2 293,170.5 297,168.4 301,168.1 305,167.4 309,166.7 313,166.6 317,169.7 321,173.0 325,175.0 329,177.4 333,181.1 337,184.8 341,187.9 345,188.9 349,188.7 353,187.7 357,188.5 361,189.0 365,189.6 369,190.7 373,192.4 377,194.2 381,195.0 385,194.7 389,194.2 393,193.4 397,192.4 401,191.2 405,191.1 409,191.3 413,192.8 417,194.2 421,194.3 425,194.5 429,195.3 433,198.2 437,200.7 441,202.8 445,205.0 449,207.5 453,210.9 457,214.5 461,217.8 465,220.8 469,225.9 473,230.8 477,236.1 481,240.8 485,246.5 489,249.6 493,252.1 497,254.5 501,257.6 505,260.8 509,264.7 513,268.5 517,272.2 521,275.9 525,279.2 529,282.0 533,284.4 537,286.5 541,289.0 545,291.6 549,293.7 553,295.3 557,296.8 561,298.1 565,300.0 569,301.6 573,302.1 577,301.6 581,301.2 585,300.7 589,299.4 593,298.3 597,296.8 601,295.5 605,294.5 609,294.6 613,294.8 617,295.0 621,295.7 625,296.8 629,298.1 633,299.8 637,301.2 641,302.6 645,303.8 649,304.9 653,306.7 657,308.4 661,310.7 665,312.8 669,315.0 673,316.8 677,319.3 681,321.7 685,322.9 689,324.3 693,325.7 697,328.0 701,330.1 705,332.9 709,335.5 713,338.0 717,340.8 721,344.1 725,346.7 729,349.4 733,352.2 737,355.2 741,357.5 745,359.4 749,361.4 753,363.3 757,365.7 761,368.2 765,370.9 769,373.3 773,375.6 777,377.9 781,380.1 785,382.6 789,385.1 793,386.4 797,387.2 801,388.2 805,389.8 809,391.2 813,392.5 817,393.3 821,393.9 825,394.0 829,394.6 833,395.0 837,394.3 841,393.2 845,391.7 849,390.3 853,388.7 857,387.1 861,385.9 865,384.3 869,382.9 873,381.6 877,380.0 881,378.4 885,376.6 889,374.8 893,373.1 897,372.5 901,372.3 905,371.6 909,371.4 913,371.8 917,371.9 921,371.2 925,371.1 929,371.2 933,371.4 937,372.0 941,372.2 945,372.8 949,373.0 953,373.4 957,374.0 961,375.2 965,375.6 969,375.6 973,376.2 977,376.8 981,377.6 985,379.9 989,380.6 993,382.6 997,384.8 1001,386.9 1005,389.2 1009,391.2 1013,392.8 1017,393.6 1021,393.3 1025,393.2 1029,393.6 1033,393.9 1037,394.5 1041,395.8 1045,396.7 1049,397.4 1053,397.8 1057,398.5 1061,399.4 1065,400.3 1069,401.6 1073,402.8 1077,404.8 1081,406.2 1085,409.1 1089,412.9 1093,417.0 1097,421.1 1101,424.6 1105,427.0 1109,430.2 1113,432.6 1117,434.5 1121,436.4 1125,437.9 1129,440.0 1133,442.4 1137,445.4 1141,448.3 1145,451.0 1149,452.5 1153,453.8 1157,455.3 1161,457.2 1165,458.9 1169,460.6 1173,462.8 1177,464.9 1181,467.0 1185,469.3 1189,471.1 1193,473.0 1197,475.0 1201,476.8 1205,478.8 1209,480.0 1213,480.0 1217,480.1 1221,480.8 1225,481.9 1229,482.2 1233,482.2 1237,482.3 1241,482.6 1245,483.7 1249,484.6 1253,485.0 1257,485.0 1261,485.2 1265,485.5" fill="none" stroke="#0000c8" stroke-width="1" shape-rendering="crispEdges"/><polyline points="1,416.2 5,412.4 9,407.7 13,404.0 17,400.5 21,395.9 25,392.8 29,390.2 33,386.2 37,382.4 41,380.0 45,376.3 49,372.9 53,369.7 57,366.5 61,363.3 65,361.8 69,360.1 73,360.3 77,361.9 81,364.3 85,365.8 89,369.0 93,371.4 97,372.1 101,373.0 105,374.5 109,376.0 113,377.2 117,376.4 121,373.9 125,370.4 129,364.2 133,354.5 137,348.3 141,343.8 145,342.2 149,340.4 153,341.5 157,340.5 161,339.2 165,330.9 169,313.4 173,297.4 177,277.0 181,250.7 185,232.4 189,223.4 193,203.3 197,173.2 201,151.8 205,131.8 209,111.0 213,95.3 217,97.8 221,103.8 225,118.5 229,134.7 233,161.9 237,175.6 241,185.2 245,177.1 249,175.4 253,166.5 257,167.3 261,166.5 265,177.9 269,181.9 273,189.1 277,198.0 281,206.4 285,207.2 289,212.6 293,206.9 297,198.8 301,195.0 305,192.1 309,184.4 313,180.2 317,180.8 321,180.9 325,177.2 329,175.3 333,182.3 337,188.5 341,193.2 345,202.1 349,202.5 353,201.5 357,197.4 361,192.2 365,181.3 369,187.2 373,194.7 377,201.6 381,202.4 385,208.5 389,203.1 393,194.9 397,187.3 401,183.6 405,185.7 409,195.2 413,203.2 417,209.9 421,213.6 425,212.2 429,208.2 433,212.4 437,219.8 441,231.8 445,240.1 449,248.7 453,258.7 457,270.9 461,283.3 465,297.0 469,313.1 473,320.7 477,327.3 481,329.8 485,335.6 489,329.5 493,322.5 497,311.6 501,303.2 505,294.1 509,293.5 513,293.3 517,293.6 521,293.9 525,296.0 529,299.0 533,298.4 537,295.8 541,291.8 545,286.6 549,278.3 553,277.8 557,281.6 561,286.3 565,290.5 569,296.4 573,299.7 577,299.5 581,302.1 585,301.4 589,299.9 593,297.8 597,298.7 601,295.5 605,298.3 609,300.7 613,301.4 617,301.1 621,304.6 625,308.1 629,314.2 633,323.4 637,330.2 641,335.3 645,337.8 649,339.8 653,339.7 657,339.1 661,340.6 665,340.9 669,338.8 673,338.8 677,347.3 681,351.9 685,351.2 689,352.4 693,353.3 697,351.3 701,352.9 705,361.3 709,367.2 713,371.5 717,376.0 721,379.3 725,381.0 729,384.2 733,386.6 737,387.1 741,385.1 745,384.1 749,385.7 753,389.9 757,393.5 761,399.4 765,406.8 769,411.3 773,413.6 777,412.1 781,411.9 785,411.6 789,409.7 793,403.7 797,403.0 801,400.5 805,394.0 809,389.1 813,389.8 817,387.9 821,387.3 825,386.3 829,387.3 833,386.5 837,382.0 841,375.0 845,367.3 849,358.4 853,348.6 857,344.2 861,341.5 865,339.7 869,341.7 873,347.3 877,350.8 881,354.2 885,360.6 889,362.7 893,362.9 897,367.3 901,375.3 905,381.7 909,389.2 913,396.0 917,399.4 921,393.9 925,391.1 929,387.9 933,387.1 937,388.4 941,393.6 945,396.3 949,397.8 953,398.3 957,393.8 961,392.8 965,384.1 969,374.2 973,365.7 977,361.0 981,355.7 985,365.6 989,372.0 993,385.7 997,398.7 1001,410.0 1005,416.6 1009,426.0 1013,424.3 1017,420.3 1021,414.0 1025,405.8 1029,403.5 1033,402.2 1037,404.7 1041,408.6 1045,412.0 1049,410.9 1053,410.9 1057,412.5 1061,415.6 1065,417.7 1069,423.0 1073,428.0 1077,431.5 1081,433.5 1085,437.1 1089,441.9 1093,450.7 1097,458.8 1101,465.7 1105,472.6 1109,475.6 1113,479.3 1117,479.1 1121,481.1 1125,482.1 1129,485.3 1133,483.1 1137,485.9 1141,485.4 1145,484.6 1149,478.1 1153,470.5 1157,464.3 1161,461.6 1165,459.2 1169,459.4 1173,465.3 1177,469.9 1181,474.7 1185,480.5 1189,486.5 1193,489.2 1197,491.9 1201,492.6 1205,493.9 1209,495.2 1213,492.5 1217,489.5 1221,489.7 1225,491.4 1229,489.0 1233,492.3 1237,492.3 1241,491.6 1245,492.7 1249,499.2 1253,500.4 1257,502.0 1261,501.0 1265,495.6" fill="none" stroke="#ffa500" stroke-width="1" shape-rendering="crispEdges"/><rect x="0" y="332" width="1593" height="2" fill="#ff0000"/><rect x="0" y="396" width="1593" height="2" fill="#ff0000"/><rect x="0" y="394" width="6" height="6" fill="#ff0000"/><rect x="2" y="396" width="2" height="2" fill="#fff"/><rect x="1587" y="394" width="6" height="6" fill="#ff0000"/><rect x="1589" y="396" width="2" height="2" fill="#fff"/><rect x="0" y="446" width="1593" height="2" fill="#00ff00"/><rect x="0" y="444" width="6" height="6" fill="#00ff00"/><rect x="2" y="446" width="2" height="2" fill="#fff"/><rect x="1587" y="444" width="6" height="6" fill="#00ff00"/><rect x="1589" y="446" width="2" height="2" fill="#fff"/><rect x="0" y="495" width="1593" height="2" fill="#0000ff"/><rect x="0" y="493" width="6" height="6" fill="#0000ff"/><rect x="2" y="495" width="2" height="2" fill="#fff"/><rect x="1587" y="493" width="6" height="6" fill="#0000ff"/><rect x="1589" y="495" width="2" height="2" fill="#fff"/><line x1="2" y1="566.5" x2="1593" y2="566.5" stroke="#c0c0c0" stroke-width="1" stroke-dasharray="3,3"/><line x1="2" y1="602.5" x2="1593" y2="602.5" stroke="#c0c0c0" stroke-width="1" stroke-dasharray="3,3"/><polyline points="1,584.9 5,577.8 9,573.1 13,575.9 17,574.5 21,569.8 25,569.3 29,566.6 33,564.7 37,564.2 41,563.7 45,560.5 49,559.0 53,558.0 57,557.6 61,557.2 65,559.7 69,557.4 73,567.3 77,573.6 81,577.1 85,575.1 89,578.0 93,581.3 97,578.6 101,582.9 105,583.5 109,585.7 113,587.7 117,576.2 121,573.4 125,571.1 129,565.2 133,559.9 137,564.3 141,567.6 145,576.1 149,570.6 153,570.3 157,568.2 161,569.6 165,561.8 169,552.9 173,556.4 177,553.4 181,551.2 185,558.0 189,556.8 193,552.8 197,549.0 201,553.7 205,560.0 209,558.8 213,557.1 217,560.8 221,568.8 225,580.9 229,579.9 233,584.6 237,577.7 241,579.6 245,576.9 249,580.8 253,580.0 257,579.4 261,580.2 265,586.4 269,584.5 273,586.0 277,586.6 281,587.0 285,587.0 289,589.2 293,580.2 297,578.9 301,583.7 305,584.4 309,582.2 313,577.0 317,580.5 321,584.8 325,581.9 329,581.5 333,584.6 337,587.0 341,589.7 345,590.7 349,581.3 353,582.8 357,582.3 361,584.2 365,579.4 369,587.6 373,590.2 377,589.0 381,584.3 385,585.0 389,581.4 393,581.6 397,581.1 401,580.5 405,588.2 409,592.1 413,590.3 417,588.0 421,583.8 425,585.3 429,586.8 433,594.0 437,595.3 441,596.4 445,592.6 449,594.3 453,601.1 457,603.5 461,604.4 465,602.4 469,605.1 473,604.6 477,606.3 481,601.6 485,603.1 489,591.4 493,589.8 497,588.2 501,588.0 505,589.6 509,590.4 513,589.1 517,587.8 521,587.5 525,592.1 529,594.0 533,586.5 537,582.2 541,580.2 545,583.3 549,580.9 553,586.4 557,588.2 561,587.5 565,589.6 569,589.7 573,591.2 577,586.8 581,590.6 585,586.8 589,585.6 593,586.2 597,587.7 601,584.1 605,591.3 609,589.3 613,586.3 617,585.8 621,589.8 625,596.0 629,598.2 633,600.4 637,594.1 641,594.6 645,596.8 649,598.2 653,597.3 657,589.6 661,593.6 665,594.0 669,590.9 673,593.9 677,601.0 681,597.7 685,587.6 689,588.5 693,590.6 697,594.1 701,596.9 705,598.8 709,595.0 713,594.5 717,597.9 721,599.2 725,599.3 729,598.4 733,595.8 737,596.8 741,593.0 745,594.9 749,598.7 753,600.9 757,601.0 761,602.3 765,605.7 769,604.1 773,601.3 777,590.7 781,594.6 785,598.2 789,593.1 793,583.1 797,586.0 801,586.6 805,583.7 809,582.7 813,584.2 817,582.1 821,585.8 825,581.9 829,585.2 833,582.7 837,574.5 841,573.3 845,569.8 849,570.6 853,567.8 857,569.8 861,572.4 865,569.9 869,579.8 873,582.9 877,580.3 881,582.1 885,585.0 889,584.5 893,583.5 897,589.6 901,596.6 905,596.3 909,597.5 913,594.4 917,593.2 921,582.8 925,587.7 929,588.5 933,590.6 937,593.4 941,591.9 945,591.9 949,590.1 953,590.3 957,582.1 961,588.2 965,574.8 969,572.2 973,575.5 977,576.7 981,581.0 985,592.5 989,584.3 993,593.9 997,593.8 1001,594.2 1005,597.0 1009,592.9 1013,589.5 1017,586.1 1021,583.6 1025,585.0 1029,589.2 1033,587.2 1037,589.1 1041,588.3 1045,588.9 1049,587.0 1053,586.4 1057,591.1 1061,592.6 1065,591.7 1069,594.7 1073,593.3 1077,595.4 1081,594.6 1085,596.4 1089,600.9 1093,604.6 1097,605.4 1101,601.4 1105,602.5 1109,601.0 1113,605.6 1117,597.8 1121,598.7 1125,598.3 1129,600.7 1133,596.8 1137,599.6 1141,592.9 1145,591.9 1149,583.9 1153,579.4 1157,585.5 1161,586.9 1165,586.7 1169,584.2 1173,589.8 1177,592.9 1181,594.3 1185,595.8 1189,593.0 1193,592.6 1197,595.9 1201,593.2 1205,595.8 1209,593.1 1213,583.6 1217,587.0 1221,590.7 1225,595.2 1229,585.5 1233,587.7 1237,585.0 1241,587.4 1245,594.1 1249,594.4 1253,587.6 1257,585.5 1261,583.8 1265,584.5" fill="none" stroke="#1e90ff" stroke-width="1" shape-rendering="crispEdges"/><g><rect x="1" y="692" width="1" height="4" fill="#c0c0c0"/><rect x="5" y="692" width="1" height="3" fill="#c0c0c0"/><rect x="9" y="692" width="1" height="2" fill="#c0c0c0"/><rect x="13" y="692" width="1" height="1" fill="#c0c0c0"/><rect x="17" y="691" width="1" height="2" fill="#c0c0c0"/><rect x="21" y="690" width="1" height="3" fill="#c0c0c0"/><rect x="25" y="689" width="1" height="4" fill="#c0c0c0"/><rect x="29" y="688" width="1" height="5" fill="#c0c0c0"/><rect x="33" y="687" width="1" height="6" fill="#c0c0c0"/><rect x="37" y="686" width="1" height="7" fill="#c0c0c0"/><rect x="41" y="686" width="1" height="7" fill="#c0c0c0"/><rect x="45" y="685" width="1" height="8" fill="#c0c0c0"/><rect x="49" y="684" width="1" height="9" fill="#c0c0c0"/><rect x="53" y="683" width="1" height="10" fill="#c0c0c0"/><rect x="57" y="683" width="1" height="10" fill="#c0c0c0"/><rect x="61" y="682" width="1" height="11" fill="#c0c0c0"/><rect x="65" y="682" width="1" height="11" fill="#c0c0c0"/><rect x="69" y="682" width="1" height="11" fill="#c0c0c0"/><rect x="73" y="682" width="1" height="11" fill="#c0c0c0"/><rect x="77" y="683" width="1" height="10" fill="#c0c0c0"/><rect x="81" y="684" width="1" height="9" fill="#c0c0c0"/><rect x="85" y="685" width="1" height="8" fill="#c0c0c0"/><rect x="89" y="685" width="1" height="8" fill="#c0c0c0"/><rect x="93" y="686" width="1" height="7" fill="#c0c0c0"/><rect x="97" y="687" width="1" height="6" fill="#c0c0c0"/><rect x="101" y="687" width="1" height="6" fill="#c0c0c0"/><rect x="105" y="688" width="1" height="5" fill="#c0c0c0"/><rect x="109" y="689" width="1" height="4" fill="#c0c0c0"/><rect x="113" y="690" width="1" height="3" fill="#c0c0c0"/><rect x="117" y="689" width="1" height="4" fill="#c0c0c0"/><rect x="121" y="689" width="1" height="4" fill="#c0c0c0"/><rect x="125" y="688" width="1" height="5" fill="#c0c0c0"/><rect x="129" y="687" width="1" height="6" fill="#c0c0c0"/><rect x="133" y="686" width="1" height="7" fill="#c0c0c0"/><rect x="137" y="684" width="1" height="9" fill="#c0c0c0"/><rect x="141" y="684" width="1" height="9" fill="#c0c0c0"/><rect x="145" y="684" width="1" height="9" fill="#c0c0c0"/><rect x="149" y="684" width="1" height="9" fill="#c0c0c0"/><rect x="153" y="684" width="1" height="9" fill="#c0c0c0"/><rect x="157" y="683" width="1" height="10" fill="#c0c0c0"/><rect x="161" y="683" width="1" height="10" fill="#c0c0c0"/><rect x="165" y="682" width="1" height="11" fill="#c0c0c0"/><rect x="169" y="677" width="1" height="16" fill="#c0c0c0"/><rect x="173" y="674" width="1" height="19" fill="#c0c0c0"/><rect x="177" y="670" width="1" height="23" fill="#c0c0c0"/><rect x="181" y="665" width="1" height="28" fill="#c0c0c0"/><rect x="185" y="663" width="1" height="30" fill="#c0c0c0"/><rect x="189" y="661" width="1" height="32" fill="#c0c0c0"/><rect x="193" y="656" width="1" height="37" fill="#c0c0c0"/><rect x="197" y="649" width="1" height="44" fill="#c0c0c0"/><rect x="201" y="644" width="1" height="49" fill="#c0c0c0"/><rect x="205" y="642" width="1" height="51" fill="#c0c0c0"/><rect x="209" y="641" width="1" height="52" fill="#c0c0c0"/><rect x="213" y="638" width="1" height="55" fill="#c0c0c0"/><rect x="217" y="638" width="1" height="55" fill="#c0c0c0"/><rect x="221" y="640" width="1" height="53" fill="#c0c0c0"/><rect x="225" y="647" width="1" height="46" fill="#c0c0c0"/><rect x="229" y="652" width="1" height="41" fill="#c0c0c0"/><rect x="233" y="659" width="1" height="34" fill="#c0c0c0"/><rect x="237" y="661" width="1" height="32" fill="#c0c0c0"/><rect x="241" y="663" width="1" height="30" fill="#c0c0c0"/><rect x="245" y="665" width="1" height="28" fill="#c0c0c0"/><rect x="249" y="667" width="1" height="26" fill="#c0c0c0"/><rect x="253" y="669" width="1" height="24" fill="#c0c0c0"/><rect x="257" y="671" width="1" height="22" fill="#c0c0c0"/><rect x="261" y="673" width="1" height="20" fill="#c0c0c0"/><rect x="265" y="677" width="1" height="16" fill="#c0c0c0"/><rect x="269" y="679" width="1" height="14" fill="#c0c0c0"/><rect x="273" y="682" width="1" height="11" fill="#c0c0c0"/><rect x="277" y="684" width="1" height="9" fill="#c0c0c0"/><rect x="281" y="687" width="1" height="6" fill="#c0c0c0"/><rect x="285" y="688" width="1" height="5" fill="#c0c0c0"/><rect x="289" y="690" width="1" height="3" fill="#c0c0c0"/><rect x="293" y="689" width="1" height="4" fill="#c0c0c0"/><rect x="297" y="688" width="1" height="5" fill="#c0c0c0"/><rect x="301" y="688" width="1" height="5" fill="#c0c0c0"/><rect x="305" y="689" width="1" height="4" fill="#c0c0c0"/><rect x="309" y="689" width="1" height="4" fill="#c0c0c0"/><rect x="313" y="687" width="1" height="6" fill="#c0c0c0"/><rect x="317" y="686" width="1" height="7" fill="#c0c0c0"/><rect x="321" y="688" width="1" height="5" fill="#c0c0c0"/><rect x="325" y="687" width="1" height="6" fill="#c0c0c0"/><rect x="329" y="687" width="1" height="6" fill="#c0c0c0"/><rect x="333" y="688" width="1" height="5" fill="#c0c0c0"/><rect x="337" y="690" width="1" height="3" fill="#c0c0c0"/><rect x="341" y="692" width="1" height="1" fill="#c0c0c0"/><rect x="345" y="692" width="1" height="3" fill="#c0c0c0"/><rect x="349" y="692" width="1" height="1" fill="#c0c0c0"/><rect x="353" y="692" width="1" height="1" fill="#c0c0c0"/><rect x="357" y="691" width="1" height="2" fill="#c0c0c0"/><rect x="361" y="691" width="1" height="2" fill="#c0c0c0"/><rect x="365" y="690" width="1" height="3" fill="#c0c0c0"/><rect x="369" y="691" width="1" height="2" fill="#c0c0c0"/><rect x="373" y="692" width="1" height="2" fill="#c0c0c0"/><rect x="377" y="692" width="1" height="4" fill="#c0c0c0"/><rect x="381" y="692" width="1" height="3" fill="#c0c0c0"/><rect x="385" y="692" width="1" height="3" fill="#c0c0c0"/><rect x="389" y="692" width="1" height="2" fill="#c0c0c0"/><rect x="393" y="692" width="1" height="1" fill="#c0c0c0"/><rect x="397" y="691" width="1" height="2" fill="#c0c0c0"/><rect x="401" y="690" width="1" height="3" fill="#c0c0c0"/><rect x="405" y="692" width="1" height="1" fill="#c0c0c0"/><rect x="409" y="692" width="1" height="3" fill="#c0c0c0"/><rect x="413" y="692" width="1" height="4" fill="#c0c0c0"/><rect x="417" y="692" width="1" height="5" fill="#c0c0c0"/><rect x="421" y="692" width="1" height="4" fill="#c0c0c0"/><rect x="425" y="692" width="1" height="4" fill="#c0c0c0"/><rect x="429" y="692" width="1" height="4" fill="#c0c0c0"/><rect x="433" y="692" width="1" height="6" fill="#c0c0c0"/><rect x="437" y="692" width="1" height="8" fill="#c0c0c0"/><rect x="441" y="692" width="1" height="10" fill="#c0c0c0"/><rect x="445" y="692" width="1" height="11" fill="#c0c0c0"/><rect x="449" y="692" width="1" height="12" fill="#c0c0c0"/><rect x="453" y="692" width="1" height="15" fill="#c0c0c0"/><rect x="457" y="692" width="1" height="18" fill="#c0c0c0"/><rect x="461" y="692" width="1" height="21" fill="#c0c0c0"/><rect x="465" y="692" width="1" height="23" fill="#c0c0c0"/><rect x="469" y="692" width="1" height="25" fill="#c0c0c0"/><rect x="473" y="692" width="1" height="27" fill="#c0c0c0"/><rect x="477" y="692" width="1" height="29" fill="#c0c0c0"/><rect x="481" y="692" width="1" height="29" fill="#c0c0c0"/><rect x="485" y="692" width="1" height="29" fill="#c0c0c0"/><rect x="489" y="692" width="1" height="27" fill="#c0c0c0"/><rect x="493" y="692" width="1" height="24" fill="#c0c0c0"/><rect x="497" y="692" width="1" height="22" fill="#c0c0c0"/><rect x="501" y="692" width="1" height="19" fill="#c0c0c0"/><rect x="505" y="692" width="1" height="18" fill="#c0c0c0"/><rect x="509" y="692" width="1" height="16" fill="#c0c0c0"/><rect x="513" y="692" width="1" height="15" fill="#c0c0c0"/><rect x="517" y="692" width="1" height="13" fill="#c0c0c0"/><rect x="521" y="692" width="1" height="12" fill="#c0c0c0"/><rect x="525" y="692" width="1" height="12" fill="#c0c0c0"/><rect x="529" y="692" width="1" height="12" fill="#c0c0c0"/><rect x="533" y="692" width="1" height="11" fill="#c0c0c0"/><rect x="537" y="692" width="1" height="9" fill="#c0c0c0"/><rect x="541" y="692" width="1" height="7" fill="#c0c0c0"/><rect x="545" y="692" width="1" height="5" fill="#c0c0c0"/><rect x="549" y="692" width="1" height="4" fill="#c0c0c0"/><rect x="553" y="692" width="1" height="4" fill="#c0c0c0"/><rect x="557" y="692" width="1" height="4" fill="#c0c0c0"/><rect x="561" y="692" width="1" height="4" fill="#c0c0c0"/><rect x="565" y="692" width="1" height="5" fill="#c0c0c0"/><rect x="569" y="692" width="1" height="5" fill="#c0c0c0"/><rect x="573" y="692" width="1" height="6" fill="#c0c0c0"/><rect x="577" y="692" width="1" height="5" fill="#c0c0c0"/><rect x="581" y="692" width="1" height="6" fill="#c0c0c0"/><rect x="585" y="692" width="1" height="5" fill="#c0c0c0"/><rect x="589" y="692" width="1" height="5" fill="#c0c0c0"/><rect x="593" y="692" width="1" height="5" fill="#c0c0c0"/><rect x="597" y="692" width="1" height="5" fill="#c0c0c0"/><rect x="601" y="692" width="1" height="4" fill="#c0c0c0"/><rect x="605" y="692" width="1" height="5" fill="#c0c0c0"/><rect x="609" y="692" width="1" height="5" fill="#c0c0c0"/><rect x="613" y="692" width="1" height="5" fill="#c0c0c0"/><rect x="617" y="692" width="1" height="4" fill="#c0c0c0"/><rect x="621" y="692" width="1" height="5" fill="#c0c0c0"/><rect x="625" y="692" width="1" height="6" fill="#c0c0c0"/><rect x="629" y="692" width="1" height="8" fill="#c0c0c0"/><rect x="633" y="692" width="1" height="9" fill="#c0c0c0"/><rect x="637" y="692" width="1" height="10" fill="#c0c0c0"/><rect x="641" y="692" width="1" height="10" fill="#c0c0c0"/><rect x="645" y="692" width="1" height="11" fill="#c0c0c0"/><rect x="649" y="692" width="1" height="11" fill="#c0c0c0"/><rect x="653" y="692" width="1" height="12" fill="#c0c0c0"/><rect x="657" y="692" width="1" height="11" fill="#c0c0c0"/><rect x="661" y="692" width="1" height="11" fill="#c0c0c0"/><rect x="665" y="692" width="1" height="11" fill="#c0c0c0"/><rect x="669" y="692" width="1" height="10" fill="#c0c0c0"/><rect x="673" y="692" width="1" height="10" fill="#c0c0c0"/><rect x="677" y="692" width="1" height="12" fill="#c0c0c0"/><rect x="681" y="692" width="1" height="13" fill="#c0c0c0"/><rect x="685" y="692" width="1" height="11" fill="#c0c0c0"/><rect x="689" y="692" width="1" height="11" fill="#c0c0c0"/><rect x="693" y="692" width="1" height="10" fill="#c0c0c0"/><rect x="697" y="692" width="1" height="11" fill="#c0c0c0"/><rect x="701" y="692" width="1" height="11" fill="#c0c0c0"/><rect x="705" y="692" width="1" height="13" fill="#c0c0c0"/><rect x="709" y="692" width="1" height="13" fill="#c0c0c0"/><rect x="713" y="692" width="1" height="13" fill="#c0c0c0"/><rect x="717" y="692" width="1" height="13" fill="#c0c0c0"/><rect x="721" y="692" width="1" height="14" fill="#c0c0c0"/><rect x="725" y="692" width="1" height="14" fill="#c0c0c0"/><rect x="729" y="692" width="1" height="14" fill="#c0c0c0"/><rect x="733" y="692" width="1" height="14" fill="#c0c0c0"/><rect x="737" y="692" width="1" height="14" fill="#c0c0c0"/><rect x="741" y="692" width="1" height="13" fill="#c0c0c0"/><rect x="745" y="692" width="1" height="13" fill="#c0c0c0"/><rect x="749" y="692" width="1" height="13" fill="#c0c0c0"/><rect x="753" y="692" width="1" height="13" fill="#c0c0c0"/><rect x="757" y="692" width="1" height="14" fill="#c0c0c0"/><rect x="761" y="692" width="1" height="14" fill="#c0c0c0"/><rect x="765" y="692" width="1" height="15" fill="#c0c0c0"/><rect x="769" y="692" width="1" height="15" fill="#c0c0c0"/><rect x="773" y="692" width="1" height="15" fill="#c0c0c0"/><rect x="777" y="692" width="1" height="14" fill="#c0c0c0"/><rect x="781" y="692" width="1" height="13" fill="#c0c0c0"/><rect x="785" y="692" width="1" height="14" fill="#c0c0c0"/><rect x="789" y="692" width="1" height="13" fill="#c0c0c0"/><rect x="793" y="692" width="1" height="11" fill="#c0c0c0"/><rect x="797" y="692" width="1" height="10" fill="#c0c0c0"/><rect x="801" y="692" width="1" height="9" fill="#c0c0c0"/><rect x="805" y="692" width="1" height="7" fill="#c0c0c0"/><rect x="809" y="692" width="1" height="6" fill="#c0c0c0"/><rect x="813" y="692" width="1" height="5" fill="#c0c0c0"/><rect x="817" y="692" width="1" height="4" fill="#c0c0c0"/><rect x="821" y="692" width="1" height="4" fill="#c0c0c0"/><rect x="825" y="692" width="1" height="3" fill="#c0c0c0"/><rect x="829" y="692" width="1" height="3" fill="#c0c0c0"/><rect x="833" y="692" width="1" height="2" fill="#c0c0c0"/><rect x="837" y="691" width="1" height="2" fill="#c0c0c0"/><rect x="841" y="690" width="1" height="3" fill="#c0c0c0"/><rect x="845" y="688" width="1" height="5" fill="#c0c0c0"/><rect x="849" y="686" width="1" height="7" fill="#c0c0c0"/><rect x="853" y="684" width="1" height="9" fill="#c0c0c0"/><rect x="857" y="683" width="1" height="10" fill="#c0c0c0"/><rect x="861" y="683" width="1" height="10" fill="#c0c0c0"/><rect x="865" y="682" width="1" height="11" fill="#c0c0c0"/><rect x="869" y="683" width="1" height="10" fill="#c0c0c0"/><rect x="873" y="684" width="1" height="9" fill="#c0c0c0"/><rect x="877" y="685" width="1" height="8" fill="#c0c0c0"/><rect x="881" y="685" width="1" height="8" fill="#c0c0c0"/><rect x="885" y="687" width="1" height="6" fill="#c0c0c0"/><rect x="889" y="687" width="1" height="6" fill="#c0c0c0"/><rect x="893" y="688" width="1" height="5" fill="#c0c0c0"/><rect x="897" y="689" width="1" height="4" fill="#c0c0c0"/><rect x="901" y="692" width="1" height="1" fill="#c0c0c0"/><rect x="905" y="692" width="1" height="3" fill="#c0c0c0"/><rect x="909" y="692" width="1" height="5" fill="#c0c0c0"/><rect x="913" y="692" width="1" height="6" fill="#c0c0c0"/><rect x="917" y="692" width="1" height="6" fill="#c0c0c0"/><rect x="921" y="692" width="1" height="5" fill="#c0c0c0"/><rect x="925" y="692" width="1" height="5" fill="#c0c0c0"/><rect x="929" y="692" width="1" height="5" fill="#c0c0c0"/><rect x="933" y="692" width="1" height="5" fill="#c0c0c0"/><rect x="937" y="692" width="1" height="6" fill="#c0c0c0"/><rect x="941" y="692" width="1" height="6" fill="#c0c0c0"/><rect x="945" y="692" width="1" height="7" fill="#c0c0c0"/><rect x="949" y="692" width="1" height="7" fill="#c0c0c0"/><rect x="953" y="692" width="1" height="6" fill="#c0c0c0"/><rect x="957" y="692" width="1" height="5" fill="#c0c0c0"/><rect x="961" y="692" width="1" height="5" fill="#c0c0c0"/><rect x="965" y="692" width="1" height="3" fill="#c0c0c0"/><rect x="969" y="691" width="1" height="2" fill="#c0c0c0"/><rect x="973" y="690" width="1" height="3" fill="#c0c0c0"/><rect x="977" y="689" width="1" height="4" fill="#c0c0c0"/><rect x="981" y="689" width="1" height="4" fill="#c0c0c0"/><rect x="985" y="691" width="1" height="2" fill="#c0c0c0"/><rect x="989" y="691" width="1" height="2" fill="#c0c0c0"/><rect x="993" y="692" width="1" height="3" fill="#c0c0c0"/><rect x="997" y="692" width="1" height="5" fill="#c0c0c0"/><rect x="1001" y="692" width="1" height="7" fill="#c0c0c0"/><rect x="1005" y="692" width="1" height="9" fill="#c0c0c0"/><rect x="1009" y="692" width="1" height="10" fill="#c0c0c0"/><rect x="1013" y="692" width="1" height="10" fill="#c0c0c0"/><rect x="1017" y="692" width="1" height="9" fill="#c0c0c0"/><rect x="1021" y="692" width="1" height="7" fill="#c0c0c0"/><rect x="1025" y="692" width="1" height="7" fill="#c0c0c0"/><rect x="1029" y="692" width="1" height="7" fill="#c0c0c0"/><rect x="1033" y="692" width="1" height="7" fill="#c0c0c0"/><rect x="1037" y="692" width="1" height="7" fill="#c0c0c0"/><rect x="1041" y="692" width="1" height="7" fill="#c0c0c0"/><rect x="1045" y="692" width="1" height="7" fill="#c0c0c0"/><rect x="1049" y="692" width="1" height="6" fill="#c0c0c0"/><rect x="1053" y="692" width="1" height="6" fill="#c0c0c0"/><rect x="1057" y="692" width="1" height="6" fill="#c0c0c0"/><rect x="1061" y="692" width="1" height="7" fill="#c0c0c0"/><rect x="1065" y="692" width="1" height="7" fill="#c0c0c0"/><rect x="1069" y="692" width="1" height="8" fill="#c0c0c0"/><rect x="1073" y="692" width="1" height="9" fill="#c0c0c0"/><rect x="1077" y="692" width="1" height="9" fill="#c0c0c0"/><rect x="1081" y="692" width="1" height="9" fill="#c0c0c0"/><rect x="1085" y="692" width="1" height="10" fill="#c0c0c0"/><rect x="1089" y="692" width="1" height="11" fill="#c0c0c0"/><rect x="1093" y="692" width="1" height="13" fill="#c0c0c0"/><rect x="1097" y="692" width="1" height="15" fill="#c0c0c0"/><rect x="1101" y="692" width="1" height="15" fill="#c0c0c0"/><rect x="1105" y="692" width="1" height="16" fill="#c0c0c0"/><rect x="1109" y="692" width="1" height="16" fill="#c0c0c0"/><rect x="1113" y="692" width="1" height="17" fill="#c0c0c0"/><rect x="1117" y="692" width="1" height="17" fill="#c0c0c0"/><rect x="1121" y="692" width="1" height="17" fill="#c0c0c0"/><rect x="1125" y="692" width="1" height="17" fill="#c0c0c0"/><rect x="1129" y="692" width="1" height="17" fill="#c0c0c0"/><rect x="1133" y="692" width="1" height="16" fill="#c0c0c0"/><rect x="1137" y="692" width="1" height="16" fill="#c0c0c0"/><rect x="1141" y="692" width="1" height="15" fill="#c0c0c0"/><rect x="1145" y="692" width="1" height="14" fill="#c0c0c0"/><rect x="1149" y="692" width="1" height="12" fill="#c0c0c0"/><rect x="1153" y="692" width="1" height="9" fill="#c0c0c0"/><rect x="1157" y="692" width="1" height="8" fill="#c0c0c0"/><rect x="1161" y="692" width="1" height="8" fill="#c0c0c0"/><rect x="1165" y="692" width="1" height="7" fill="#c0c0c0"/><rect x="1169" y="692" width="1" height="6" fill="#c0c0c0"/><rect x="1173" y="692" width="1" height="6" fill="#c0c0c0"/><rect x="1177" y="692" width="1" height="7" fill="#c0c0c0"/><rect x="1181" y="692" width="1" height="8" fill="#c0c0c0"/><rect x="1185" y="692" width="1" height="8" fill="#c0c0c0"/><rect x="1189" y="692" width="1" height="9" fill="#c0c0c0"/><rect x="1193" y="692" width="1" height="9" fill="#c0c0c0"/><rect x="1197" y="692" width="1" height="9" fill="#c0c0c0"/><rect x="1201" y="692" width="1" height="9" fill="#c0c0c0"/><rect x="1205" y="692" width="1" height="10" fill="#c0c0c0"/><rect x="1209" y="692" width="1" height="10" fill="#c0c0c0"/><rect x="1213" y="692" width="1" height="8" fill="#c0c0c0"/><rect x="1217" y="692" width="1" height="7" fill="#c0c0c0"/><rect x="1221" y="692" width="1" height="7" fill="#c0c0c0"/><rect x="1225" y="692" width="1" height="8" fill="#c0c0c0"/><rect x="1229" y="692" width="1" height="7" fill="#c0c0c0"/><rect x="1233" y="692" width="1" height="7" fill="#c0c0c0"/><rect x="1237" y="692" width="1" height="6" fill="#c0c0c0"/><rect x="1241" y="692" width="1" height="6" fill="#c0c0c0"/><rect x="1245" y="692" width="1" height="7" fill="#c0c0c0"/><rect x="1249" y="692" width="1" height="8" fill="#c0c0c0"/><rect x="1253" y="692" width="1" height="8" fill="#c0c0c0"/><rect x="1257" y="692" width="1" height="7" fill="#c0c0c0"/><rect x="1261" y="692" width="1" height="6" fill="#c0c0c0"/><rect x="1265" y="692" width="1" height="5" fill="#c0c0c0"/></g><polyline points="1,696.6 5,696.1 9,695.6 13,695.0 17,694.3 21,693.6 25,692.7 29,691.8 33,690.9 37,689.9 41,689.0 45,688.2 49,687.3 53,686.5 57,685.7 61,684.9 65,684.3 69,683.7 73,683.3 77,683.0 81,682.9 85,683.0 89,683.2 93,683.6 97,684.0 101,684.6 105,685.3 109,686.0 113,686.7 117,687.3 121,687.8 125,688.1 129,688.2 133,688.1 137,687.8 141,687.3 145,686.9 149,686.2 153,685.6 157,685.0 161,684.4 165,683.8 169,682.8 173,681.6 177,680.1 181,677.9 185,675.6 189,673.1 193,670.1 197,666.3 201,662.1 205,658.2 209,654.5 213,651.0 217,648.0 221,645.5 225,643.9 229,643.4 233,644.6 237,646.4 241,648.8 245,651.4 249,654.7 253,658.1 257,661.5 261,664.4 265,667.1 269,669.4 273,671.7 277,674.1 281,676.5 285,678.9 289,681.2 293,683.3 297,685.0 301,686.3 305,687.4 309,688.1 313,688.4 317,688.4 321,688.3 325,688.0 329,687.8 333,687.8 337,687.9 341,688.2 345,688.7 349,689.3 353,689.9 357,690.4 361,690.8 365,691.1 369,691.5 373,691.9 377,692.2 381,692.3 385,692.5 389,692.6 393,692.7 397,692.7 401,692.7 405,692.7 409,692.8 413,692.9 417,693.0 421,693.1 425,693.3 429,693.7 433,694.3 437,695.3 441,696.4 445,697.3 449,698.2 453,699.3 457,700.9 461,702.9 465,705.0 469,707.1 473,709.2 477,711.2 481,713.1 485,715.1 489,716.4 493,717.0 497,717.0 501,716.6 505,715.7 509,714.5 513,713.0 517,711.3 521,709.4 525,707.8 529,706.4 533,705.2 537,704.1 541,702.8 545,701.6 549,700.4 553,699.4 557,698.5 561,697.6 565,696.8 569,696.2 573,695.9 577,695.8 581,695.8 585,696.0 589,696.1 593,696.1 597,696.1 601,696.0 605,696.0 609,695.9 613,695.8 617,695.7 621,695.6 625,695.7 629,696.0 633,696.6 637,697.2 641,697.8 645,698.5 649,699.2 653,700.1 657,700.8 661,701.3 665,701.7 669,701.8 673,701.9 677,702.1 681,702.3 685,702.3 689,702.1 693,702.0 697,702.0 701,702.0 705,702.3 709,702.5 713,702.6 717,702.7 721,703.0 725,703.4 729,703.9 733,704.3 737,704.5 741,704.5 745,704.5 749,704.5 753,704.5 757,704.5 761,704.5 765,704.5 769,704.7 773,704.9 777,705.0 781,705.1 785,705.2 789,705.1 793,704.8 797,704.3 801,703.6 805,702.7 809,701.7 813,700.7 817,699.7 821,698.6 825,697.5 829,696.6 833,695.8 837,694.9 841,693.9 845,692.9 849,691.7 853,690.5 857,689.2 861,688.0 865,686.7 869,685.5 873,684.7 877,684.1 881,683.9 885,684.0 889,684.3 893,684.8 897,685.6 901,686.7 905,687.9 909,689.2 913,690.5 917,691.8 921,692.9 925,693.8 929,694.7 933,695.5 937,696.1 941,696.5 945,696.7 949,696.8 953,696.9 957,696.9 961,696.9 965,696.7 969,696.1 973,695.2 977,694.3 981,693.2 985,692.5 989,691.8 993,691.5 997,691.5 1001,692.0 1005,693.0 1009,694.2 1013,695.6 1017,696.9 1021,697.7 1025,698.4 1029,698.9 1033,699.1 1037,699.0 1041,698.8 1045,698.4 1049,698.0 1053,697.7 1057,697.5 1061,697.6 1065,697.6 1069,697.8 1073,698.0 1077,698.3 1081,698.6 1085,699.0 1089,699.6 1093,700.3 1097,701.2 1101,702.1 1105,702.9 1109,703.8 1113,704.7 1117,705.6 1121,706.4 1125,707.0 1129,707.4 1133,707.5 1137,707.6 1141,707.6 1145,707.3 1149,706.8 1153,705.9 1157,704.9 1161,703.9 1165,702.8 1169,701.7 1173,700.5 1177,699.6 1181,698.8 1185,698.4 1189,698.3 1193,698.4 1197,698.6 1201,698.8 1205,699.2 1209,699.6 1213,699.8 1217,699.8 1221,699.7 1225,699.6 1229,699.5 1233,699.3 1237,698.9 1241,698.5 1245,698.2 1249,698.2 1253,698.3 1257,698.2 1261,697.9 1265,697.7" fill="none" stroke="#ff0000" stroke-width="1" stroke-dasharray="3,3" shape-rendering="crispEdges"/><rect x="0" y="24" width="1594" height="1" fill="#000"/><rect x="0" y="24" width="1" height="702" fill="#000"/><rect x="1593" y="24" width="1" height="702" fill="#000"/><rect x="0" y="535" width="1594" height="1" fill="#000"/><rect x="0" y="537" width="1594" height="1" fill="#000"/><rect x="0" y="630" width="1594" height="1" fill="#000"/><rect x="0" y="632" width="1594" height="1" fill="#000"/><rect x="0" y="725" width="1594" height="1" fill="#000"/><rect x="1594" y="536" width="42" height="1" fill="#fff"/><rect x="0" y="536" width="1594" height="1" fill="#fff"/><rect x="0" y="631" width="1594" height="1" fill="#fff"/><path d="M1269 25 L1278 25 L1273.5 30 Z" fill="#c0c0c0" shape-rendering="geometricPrecision"/><rect x="1594" y="37" width="3" height="1" fill="#000"/><text x="1599.6" y="41" font-family="Liberation Sans" font-size="9.6" fill="#000" stroke="#000" stroke-width="0.15" textLength="32" lengthAdjust="spacingAndGlyphs" shape-rendering="geometricPrecision">1.47190</text><rect x="1594" y="70" width="3" height="1" fill="#000"/><text x="1599.6" y="74" font-family="Liberation Sans" font-size="9.6" fill="#000" stroke="#000" stroke-width="0.15" textLength="32" lengthAdjust="spacingAndGlyphs" shape-rendering="geometricPrecision">1.45750</text><rect x="1594" y="103" width="3" height="1" fill="#000"/><text x="1599.6" y="107" font-family="Liberation Sans" font-size="9.6" fill="#000" stroke="#000" stroke-width="0.15" textLength="32" lengthAdjust="spacingAndGlyphs" shape-rendering="geometricPrecision">1.44310</text><rect x="1594" y="136" width="3" height="1" fill="#000"/><text x="1599.6" y="140" font-family="Liberation Sans" font-size="9.6" fill="#000" stroke="#000" stroke-width="0.15" textLength="32" lengthAdjust="spacingAndGlyphs" shape-rendering="geometricPrecision">1.42870</text><rect x="1594" y="169" width="3" height="1" fill="#000"/><text x="1599.6" y="173" font-family="Liberation Sans" font-size="9.6" fill="#000" stroke="#000" stroke-width="0.15" textLength="32" lengthAdjust="spacingAndGlyphs" shape-rendering="geometricPrecision">1.41390</text><rect x="1594" y="202" width="3" height="1" fill="#000"/><text x="1599.6" y="206" font-family="Liberation Sans" font-size="9.6" fill="#000" stroke="#000" stroke-width="0.15" textLength="32" lengthAdjust="spacingAndGlyphs" shape-rendering="geometricPrecision">1.39950</text><rect x="1594" y="235" width="3" height="1" fill="#000"/><text x="1599.6" y="239" font-family="Liberation Sans" font-size="9.6" fill="#000" stroke="#000" stroke-width="0.15" textLength="32" lengthAdjust="spacingAndGlyphs" shape-rendering="geometricPrecision">1.38510</text><rect x="1594" y="268" width="3" height="1" fill="#000"/><text x="1599.6" y="272" font-family="Liberation Sans" font-size="9.6" fill="#000" stroke="#000" stroke-width="0.15" textLength="32" lengthAdjust="spacingAndGlyphs" shape-rendering="geometricPrecision">1.37070</text><rect x="1594" y="301" width="3" height="1" fill="#000"/><text x="1599.6" y="305" font-family="Liberation Sans" font-size="9.6" fill="#000" stroke="#000" stroke-width="0.15" textLength="32" lengthAdjust="spacingAndGlyphs" shape-rendering="geometricPrecision">1.35590</text><rect x="1594" y="334" width="3" height="1" fill="#000"/><text x="1599.6" y="338" font-family="Liberation Sans" font-size="9.6" fill="#000" stroke="#000" stroke-width="0.15" textLength="32" lengthAdjust="spacingAndGlyphs" shape-rendering="geometricPrecision">1.34150</text><rect x="1594" y="367" width="3" height="1" fill="#000"/><text x="1599.6" y="371" font-family="Liberation Sans" font-size="9.6" fill="#000" stroke="#000" stroke-width="0.15" textLength="32" lengthAdjust="spacingAndGlyphs" shape-rendering="geometricPrecision">1.32710</text><rect x="1594" y="400" width="3" height="1" fill="#000"/><text x="1599.6" y="404" font-family="Liberation Sans" font-size="9.6" fill="#000" stroke="#000" stroke-width="0.15" textLength="32" lengthAdjust="spacingAndGlyphs" shape-rendering="geometricPrecision">1.31270</text><rect x="1594" y="433" width="3" height="1" fill="#000"/><text x="1599.6" y="437" font-family="Liberation Sans" font-size="9.6" fill="#000" stroke="#000" stroke-width="0.15" textLength="32" lengthAdjust="spacingAndGlyphs" shape-rendering="geometricPrecision">1.29790</text><rect x="1594" y="466" width="3" height="1" fill="#000"/><text x="1599.6" y="470" font-family="Liberation Sans" font-size="9.6" fill="#000" stroke="#000" stroke-width="0.15" textLength="32" lengthAdjust="spacingAndGlyphs" shape-rendering="geometricPrecision">1.28350</text><rect x="1594" y="499" width="3" height="1" fill="#000"/><text x="1599.6" y="503" font-family="Liberation Sans" font-size="9.6" fill="#000" stroke="#000" stroke-width="0.15" textLength="32" lengthAdjust="spacingAndGlyphs" shape-rendering="geometricPrecision">1.26910</text><rect x="1594" y="532" width="3" height="1" fill="#000"/><text x="1599.6" y="536" font-family="Liberation Sans" font-size="9.6" fill="#000" stroke="#000" stroke-width="0.15" textLength="32" lengthAdjust="spacingAndGlyphs" shape-rendering="geometricPrecision">1.25470</text><rect x="1595" y="327" width="41" height="11" fill="#ff0000"/><text x="1599.6" y="336" font-family="Liberation Sans" font-size="9.6" fill="#fff" stroke="#fff" stroke-width="0.15" textLength="32" lengthAdjust="spacingAndGlyphs" shape-rendering="geometricPrecision">1.34206</text><rect x="1595" y="391" width="41" height="11" fill="#ff0000"/><text x="1599.6" y="400" font-family="Liberation Sans" font-size="9.6" fill="#fff" stroke="#fff" stroke-width="0.15" textLength="32" lengthAdjust="spacingAndGlyphs" shape-rendering="geometricPrecision">1.31405</text><rect x="1595" y="441" width="41" height="11" fill="#00ff00"/><text x="1599.6" y="450" font-family="Liberation Sans" font-size="9.6" fill="#fff" stroke="#fff" stroke-width="0.15" textLength="32" lengthAdjust="spacingAndGlyphs" shape-rendering="geometricPrecision">1.29208</text><rect x="1595" y="483" width="41" height="11" fill="#000000"/><text x="1599.6" y="492" font-family="Liberation Sans" font-size="9.6" fill="#fff" stroke="#fff" stroke-width="0.15" textLength="32" lengthAdjust="spacingAndGlyphs" shape-rendering="geometricPrecision">1.27401</text><rect x="1595" y="490" width="41" height="11" fill="#0000ff"/><text x="1599.6" y="499" font-family="Liberation Sans" font-size="9.6" fill="#fff" stroke="#fff" stroke-width="0.15" textLength="32" lengthAdjust="spacingAndGlyphs" shape-rendering="geometricPrecision">1.27027</text><rect x="1594" y="539" width="3" height="1" fill="#000"/><rect x="1594" y="629" width="3" height="1" fill="#000"/><text x="1597.4" y="548" font-family="Liberation Sans" font-size="9.6" fill="#000" stroke="#000" stroke-width="0.15" textLength="14.7" lengthAdjust="spacingAndGlyphs" shape-rendering="geometricPrecision">100</text><text x="1596.6" y="570" font-family="Liberation Sans" font-size="9.6" fill="#000" stroke="#000" stroke-width="0.15" textLength="9.3" lengthAdjust="spacingAndGlyphs" shape-rendering="geometricPrecision">70</text><text x="1596.6" y="606" font-family="Liberation Sans" font-size="9.6" fill="#000" stroke="#000" stroke-width="0.15" textLength="9.3" lengthAdjust="spacingAndGlyphs" shape-rendering="geometricPrecision">30</text><text x="1596.6" y="627" font-family="Liberation Sans" font-size="9.6" fill="#000" stroke="#000" stroke-width="0.15" textLength="4.7" lengthAdjust="spacingAndGlyphs" shape-rendering="geometricPrecision">0</text><rect x="1594" y="634" width="3" height="1" fill="#000"/><rect x="1594" y="692" width="3" height="1" fill="#000"/><text x="1597.4" y="643" font-family="Liberation Sans" font-size="9.6" fill="#000" stroke="#000" stroke-width="0.15" textLength="37.5" lengthAdjust="spacingAndGlyphs" shape-rendering="geometricPrecision">0.032972</text><text x="1597.4" y="696" font-family="Liberation Sans" font-size="9.6" fill="#000" stroke="#000" stroke-width="0.15" textLength="17.5" lengthAdjust="spacingAndGlyphs" shape-rendering="geometricPrecision">0.00</text><text x="1597.4" y="723" font-family="Liberation Sans" font-size="9.6" fill="#000" stroke="#000" stroke-width="0.15" textLength="42" lengthAdjust="spacingAndGlyphs" shape-rendering="geometricPrecision">-0.018154</text><path d="M4 31 L11 31 L7.5 35 Z" fill="#000" shape-rendering="geometricPrecision"/><text x="16.5" y="36" font-family="Liberation Sans" font-size="9.6" fill="#000" stroke="#000" stroke-width="0.15" textLength="65.3" lengthAdjust="spacingAndGlyphs" shape-rendering="geometricPrecision">USDCAD,Daily</text><text x="88.8" y="36" font-family="Liberation Sans" font-size="9.6" fill="#000" stroke="#000" stroke-width="0.15" textLength="139.8" lengthAdjust="spacingAndGlyphs" shape-rendering="geometricPrecision">1.27476 1.27782 1.27300 1.27401</text><text x="5.1" y="550" font-family="Liberation Sans" font-size="9.6" fill="#000" stroke="#000" stroke-width="0.15" textLength="68.3" lengthAdjust="spacingAndGlyphs" shape-rendering="geometricPrecision">RSI(14) 49.6328</text><text x="5.7" y="645" font-family="Liberation Sans" font-size="9.6" fill="#000" stroke="#000" stroke-width="0.15" textLength="153.3" lengthAdjust="spacingAndGlyphs" shape-rendering="geometricPrecision">MACD(12,26,9) -0.002236 -0.003099</text><rect x="1" y="726" width="1" height="3" fill="#000"/><text x="0.2" y="738" font-family="Liberation Sans" font-size="9.6" fill="#000" stroke="#000" stroke-width="0.15" textLength="50" lengthAdjust="spacingAndGlyphs" shape-rendering="geometricPrecision">21 Jan 2020</text><rect x="65" y="726" width="1" height="3" fill="#000"/><text x="63.7" y="738" font-family="Liberation Sans" font-size="9.6" fill="#000" stroke="#000" stroke-width="0.15" textLength="47.3" lengthAdjust="spacingAndGlyphs" shape-rendering="geometricPrecision">8 Feb 2020</text><rect x="129" y="726" width="1" height="3" fill="#000"/><text x="127.7" y="738" font-family="Liberation Sans" font-size="9.6" fill="#000" stroke="#000" stroke-width="0.15" textLength="51.8" lengthAdjust="spacingAndGlyphs" shape-rendering="geometricPrecision">27 Feb 2020</text><rect x="193" y="726" width="1" height="3" fill="#000"/><text x="191.7" y="738" font-family="Liberation Sans" font-size="9.6" fill="#000" stroke="#000" stroke-width="0.15" textLength="51.3" lengthAdjust="spacingAndGlyphs" shape-rendering="geometricPrecision">17 Mar 2020</text><rect x="257" y="726" width="1" height="3" fill="#000"/><text x="255.7" y="738" font-family="Liberation Sans" font-size="9.6" fill="#000" stroke="#000" stroke-width="0.15" textLength="46.2" lengthAdjust="spacingAndGlyphs" shape-rendering="geometricPrecision">4 Apr 2020</text><rect x="321" y="726" width="1" height="3" fill="#000"/><text x="319.7" y="738" font-family="Liberation Sans" font-size="9.6" fill="#000" stroke="#000" stroke-width="0.15" textLength="51" lengthAdjust="spacingAndGlyphs" shape-rendering="geometricPrecision">23 Apr 2020</text><rect x="385" y="726" width="1" height="3" fill="#000"/><text x="383.7" y="738" font-family="Liberation Sans" font-size="9.6" fill="#000" stroke="#000" stroke-width="0.15" textLength="54.3" lengthAdjust="spacingAndGlyphs" shape-rendering="geometricPrecision">12 May 2020</text><rect x="449" y="726" width="1" height="3" fill="#000"/><text x="447.7" y="738" font-family="Liberation Sans" font-size="9.6" fill="#000" stroke="#000" stroke-width="0.15" textLength="54.3" lengthAdjust="spacingAndGlyphs" shape-rendering="geometricPrecision">30 May 2020</text><rect x="513" y="726" width="1" height="3" fill="#000"/><text x="511.7" y="738" font-family="Liberation Sans" font-size="9.6" fill="#000" stroke="#000" stroke-width="0.15" textLength="49.6" lengthAdjust="spacingAndGlyphs" shape-rendering="geometricPrecision">18 Jun 2020</text><rect x="577" y="726" width="1" height="3" fill="#000"/><text x="575.7" y="738" font-family="Liberation Sans" font-size="9.6" fill="#000" stroke="#000" stroke-width="0.15" textLength="42" lengthAdjust="spacingAndGlyphs" shape-rendering="geometricPrecision">7 Jul 2020</text><rect x="641" y="726" width="1" height="3" fill="#000"/><text x="639.7" y="738" font-family="Liberation Sans" font-size="9.6" fill="#000" stroke="#000" stroke-width="0.15" textLength="47" lengthAdjust="spacingAndGlyphs" shape-rendering="geometricPrecision">25 Jul 2020</text><rect x="705" y="726" width="1" height="3" fill="#000"/><text x="703.7" y="738" font-family="Liberation Sans" font-size="9.6" fill="#000" stroke="#000" stroke-width="0.15" textLength="52.5" lengthAdjust="spacingAndGlyphs" shape-rendering="geometricPrecision">13 Aug 2020</text><rect x="769" y="726" width="1" height="3" fill="#000"/><text x="767.7" y="738" font-family="Liberation Sans" font-size="9.6" fill="#000" stroke="#000" stroke-width="0.15" textLength="46.4" lengthAdjust="spacingAndGlyphs" shape-rendering="geometricPrecision">1 Sep 2020</text><rect x="833" y="726" width="1" height="3" fill="#000"/><text x="831.7" y="738" font-family="Liberation Sans" font-size="9.6" fill="#000" stroke="#000" stroke-width="0.15" textLength="52.2" lengthAdjust="spacingAndGlyphs" shape-rendering="geometricPrecision">19 Sep 2020</text><rect x="897" y="726" width="1" height="3" fill="#000"/><text x="895.7" y="738" font-family="Liberation Sans" font-size="9.6" fill="#000" stroke="#000" stroke-width="0.15" textLength="46.5" lengthAdjust="spacingAndGlyphs" shape-rendering="geometricPrecision">8 Oct 2020</text><rect x="961" y="726" width="1" height="3" fill="#000"/><text x="959.7" y="738" font-family="Liberation Sans" font-size="9.6" fill="#000" stroke="#000" stroke-width="0.15" textLength="50.6" lengthAdjust="spacingAndGlyphs" shape-rendering="geometricPrecision">27 Oct 2020</text><rect x="1025" y="726" width="1" height="3" fill="#000"/><text x="1023.7" y="738" font-family="Liberation Sans" font-size="9.6" fill="#000" stroke="#000" stroke-width="0.15" textLength="53.8" lengthAdjust="spacingAndGlyphs" shape-rendering="geometricPrecision">14 Nov 2020</text><rect x="1089" y="726" width="1" height="3" fill="#000"/><text x="1087.7" y="738" font-family="Liberation Sans" font-size="9.6" fill="#000" stroke="#000" stroke-width="0.15" textLength="47" lengthAdjust="spacingAndGlyphs" shape-rendering="geometricPrecision">3 Dec 2020</text><rect x="1153" y="726" width="1" height="3" fill="#000"/><text x="1151.7" y="738" font-family="Liberation Sans" font-size="9.6" fill="#000" stroke="#000" stroke-width="0.15" textLength="52" lengthAdjust="spacingAndGlyphs" shape-rendering="geometricPrecision">22 Dec 2020</text><rect x="1217" y="726" width="1" height="3" fill="#000"/><text x="1215.7" y="738" font-family="Liberation Sans" font-size="9.6" fill="#000" stroke="#000" stroke-width="0.15" textLength="49" lengthAdjust="spacingAndGlyphs" shape-rendering="geometricPrecision">12 Jan 2021</text><rect x="0" y="746" width="1636" height="1" fill="#e6e6e6"/><rect x="0" y="747" width="1636" height="1" fill="#ffffff"/><rect x="0" y="748" width="1636" height="1" fill="#000000"/><rect x="0" y="749" width="1636" height="1" fill="#ffffff"/><rect x="0" y="750" width="1636" height="18" fill="#f0f0f0"/><rect x="0" y="768" width="1636" height="1" fill="#ffffff"/><rect x="0" y="769" width="1636" height="1" fill="#f0f0f0"/><text x="14.5" y="762.8" font-family="Liberation Sans" font-size="12" fill="#6d6d6d" stroke="#6d6d6d" stroke-width="0" textLength="79.5" lengthAdjust="spacingAndGlyphs" shape-rendering="geometricPrecision">EURUSD,Daily</text><rect x="106" y="751" width="1" height="14" fill="#7a7a7a"/><text x="116.3" y="762.8" font-family="Liberation Sans" font-size="12" fill="#6d6d6d" stroke="#6d6d6d" stroke-width="0" textLength="78.8" lengthAdjust="spacingAndGlyphs" shape-rendering="geometricPrecision">USDCHF,Daily</text><rect x="207" y="751" width="1" height="14" fill="#7a7a7a"/><text x="217" y="762.8" font-family="Liberation Sans" font-size="12" fill="#6d6d6d" stroke="#6d6d6d" stroke-width="0" textLength="82.1" lengthAdjust="spacingAndGlyphs" shape-rendering="geometricPrecision">AUDUSD,Daily</text><rect x="310" y="748" width="104" height="19" fill="#000"/><rect x="311" y="748" width="102" height="18" fill="#fff"/><text x="321" y="762.8" font-family="Liberation Sans" font-size="12" fill="#000" stroke="#000" stroke-width="0" textLength="80.8" lengthAdjust="spacingAndGlyphs" shape-rendering="geometricPrecision">USDCAD,Daily</text><text x="424.4" y="762.8" font-family="Liberation Sans" font-size="12" fill="#6d6d6d" stroke="#6d6d6d" stroke-width="0" textLength="82" lengthAdjust="spacingAndGlyphs" shape-rendering="geometricPrecision">USDCNH,Daily</text><rect x="518" y="751" width="1" height="14" fill="#7a7a7a"/><text x="530.4" y="762.8" font-family="Liberation Sans" font-size="12" fill="#6d6d6d" stroke="#6d6d6d" stroke-width="0" textLength="79.6" lengthAdjust="spacingAndGlyphs" shape-rendering="geometricPrecision">EURUSD,Daily</text><rect x="622" y="751" width="1" height="14" fill="#7a7a7a"/><text x="634.1" y="762.8" font-family="Liberation Sans" font-size="12" fill="#6d6d6d" stroke="#6d6d6d" stroke-width="0" textLength="67.5" lengthAdjust="spacingAndGlyphs" shape-rendering="geometricPrecision">GBPUSD,H4</text><rect x="714" y="751" width="1" height="14" fill="#7a7a7a"/><text x="725.5" y="762.8" font-family="Liberation Sans" font-size="12" fill="#6d6d6d" stroke="#6d6d6d" stroke-width="0" textLength="67.8" lengthAdjust="spacingAndGlyphs" shape-rendering="geometricPrecision">XAUUSD,H4</text><rect x="807" y="751" width="1" height="14" fill="#7a7a7a"/><text x="817.5" y="762.8" font-family="Liberation Sans" font-size="12" fill="#6d6d6d" stroke="#6d6d6d" stroke-width="0" textLength="48.8" lengthAdjust="spacingAndGlyphs" shape-rendering="geometricPrecision">HK50,H1</text><rect x="878" y="751" width="1" height="14" fill="#7a7a7a"/><text x="889.3" y="762.8" font-family="Liberation Sans" font-size="12" fill="#6d6d6d" stroke="#6d6d6d" stroke-width="0" textLength="56.2" lengthAdjust="spacingAndGlyphs" shape-rendering="geometricPrecision">UK100,H1</text><rect x="958" y="751" width="1" height="14" fill="#7a7a7a"/><text x="969.4" y="762.8" font-family="Liberation Sans" font-size="12" fill="#6d6d6d" stroke="#6d6d6d" stroke-width="0" textLength="56" lengthAdjust="spacingAndGlyphs" shape-rendering="geometricPrecision">UK100,H1</text><rect x="1038" y="751" width="1" height="14" fill="#7a7a7a"/><text x="1049" y="762.8" font-family="Liberation Sans" font-size="12" fill="#6d6d6d" stroke="#6d6d6d" stroke-width="0" textLength="56.5" lengthAdjust="spacingAndGlyphs" shape-rendering="geometricPrecision">GER30,H1</text><rect x="1118" y="751" width="1" height="14" fill="#7a7a7a"/><text x="1128.6" y="762.8" font-family="Liberation Sans" font-size="12" fill="#6d6d6d" stroke="#6d6d6d" stroke-width="0" textLength="53.4" lengthAdjust="spacingAndGlyphs" shape-rendering="geometricPrecision">FRA40,H1</text><rect x="1194" y="751" width="1" height="14" fill="#7a7a7a"/><text x="1205" y="762.8" font-family="Liberation Sans" font-size="12" fill="#6d6d6d" stroke="#6d6d6d" stroke-width="0" textLength="76.7" lengthAdjust="spacingAndGlyphs" shape-rendering="geometricPrecision">USOil,Weekly</text><rect x="1294" y="751" width="1" height="14" fill="#7a7a7a"/><text x="1304" y="762.8" font-family="Liberation Sans" font-size="12" fill="#6d6d6d" stroke="#6d6d6d" stroke-width="0" textLength="62.2" lengthAdjust="spacingAndGlyphs" shape-rendering="geometricPrecision">USDJPY,H1</text><rect x="1378" y="751" width="1" height="14" fill="#7a7a7a"/><text x="1388.5" y="762.8" font-family="Liberation Sans" font-size="12" fill="#6d6d6d" stroke="#6d6d6d" stroke-width="0" textLength="58.2" lengthAdjust="spacingAndGlyphs" shape-rendering="geometricPrecision">DJ30,Daily</text><rect x="1458" y="751" width="1" height="14" fill="#7a7a7a"/><text x="1467.9" y="762.8" font-family="Liberation Sans" font-size="12" fill="#6d6d6d" stroke="#6d6d6d" stroke-width="0" textLength="78.6" lengthAdjust="spacingAndGlyphs" shape-rendering="geometricPrecision">CHINA300,H1</text><rect x="1558" y="751" width="1" height="14" fill="#7a7a7a"/><text x="1568.2" y="762.8" font-family="Liberation Sans" font-size="12" fill="#6d6d6d" stroke="#6d6d6d" stroke-width="0" textLength="60.866666666666674" lengthAdjust="spacingAndGlyphs" shape-rendering="geometricPrecision">USOil,Daily</text><rect x="1603" y="750" width="33" height="18" fill="#f0f0f0"/><path d="M1609 757 L1612 754 L1612 760 Z" fill="#8a8a8a" shape-rendering="geometricPrecision"/><path d="M1631 757 L1628 754 L1628 760 Z" fill="#000" shape-rendering="geometricPrecision"/></svg></body></html>
